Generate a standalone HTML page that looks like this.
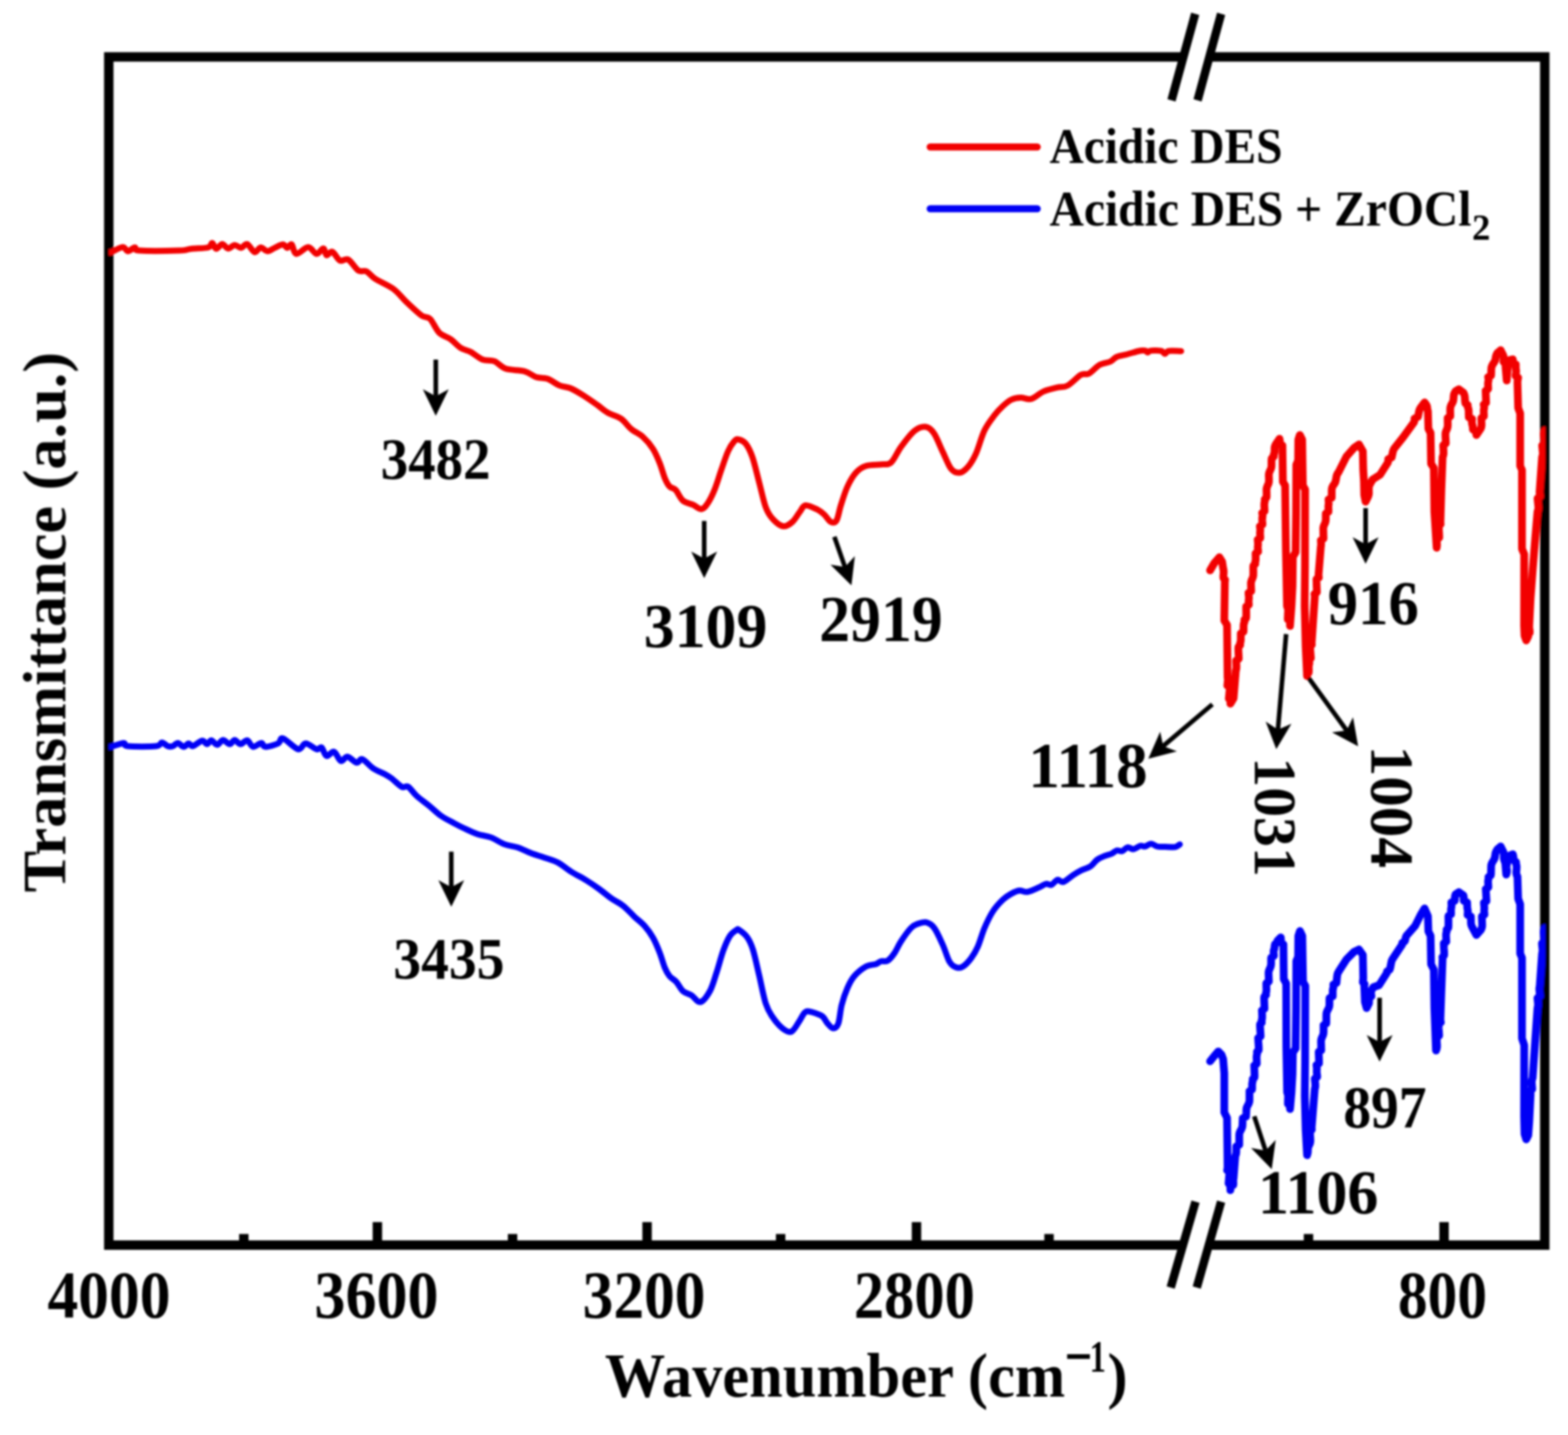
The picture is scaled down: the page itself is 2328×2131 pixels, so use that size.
<!DOCTYPE html>
<html><head><meta charset="utf-8"><title>FTIR spectra</title>
<style>
html,body{margin:0;padding:0;background:#fff;}
body{width:2328px;height:2131px;overflow:hidden;}
svg{display:block;}
text{font-family:'Liberation Serif','Times New Roman',serif;font-weight:bold;fill:#000;}
</style></head><body>
<svg width="2328" height="2131" viewBox="0 0 2328 2131">
<defs><filter id="soft" x="0" y="0" width="2328" height="2131" filterUnits="userSpaceOnUse"><feGaussianBlur stdDeviation="1.4"/></filter></defs>
<clipPath id="plot"><rect x="161.5" y="84.5" width="2133" height="1764.5"/></clipPath>
<rect width="2328" height="2131" fill="#fff"/>
<g filter="url(#soft)">

<g stroke="#000" stroke-width="14" fill="none" stroke-linecap="butt">
<path d="M1755,84.5 L161.5,84.5 L161.5,1849 L1755,1849" stroke-linejoin="miter"/>
<path d="M1799,84.5 L2293.5,84.5 L2293.5,1849 L1799,1849" stroke-linejoin="miter"/>
<line x1="560.3" y1="1849" x2="560.3" y2="1814.8"/>
<line x1="960.7" y1="1849" x2="960.7" y2="1814.8"/>
<line x1="1360.7" y1="1849" x2="1360.7" y2="1814.8"/>
<line x1="2144" y1="1849" x2="2144" y2="1814.8"/>
<line x1="362" y1="1849" x2="362" y2="1832.5"/>
<line x1="761" y1="1849" x2="761" y2="1832.5"/>
<line x1="1159" y1="1849" x2="1159" y2="1832.5"/>
<line x1="1557.5" y1="1849" x2="1557.5" y2="1832.5"/>
<line x1="1942.7" y1="1849" x2="1942.7" y2="1832.5"/>
</g>
<g stroke="#000" stroke-width="12.5" stroke-linecap="butt">
<line x1="1774.5" y1="20.5" x2="1739.3" y2="149"/>
<line x1="1813" y1="20.5" x2="1778" y2="149"/>
<line x1="1775" y1="1784.5" x2="1738.1" y2="1912"/>
<line x1="1813" y1="1784.5" x2="1776.8" y2="1912"/>
</g>
<g fill="none" stroke-width="9" stroke-linejoin="round" stroke-linecap="round">
<g clip-path="url(#plot)">
<path stroke="#f20000" d="M162.0,374.4C162.5,374.4 161.7,375.6 165.0,374.4C168.3,373.2 177.8,367.2 182.0,367.0C186.2,366.8 187.0,372.9 190.0,373.0C193.0,373.1 197.2,367.7 200.0,367.5C202.8,367.3 195.9,371.2 207.0,372.0C218.1,372.8 253.7,372.4 266.5,372.0C279.3,371.6 276.9,370.1 284.0,369.4C291.1,368.6 303.8,368.9 309.0,367.5C314.2,366.1 313.0,360.7 315.0,361.0C317.0,361.3 318.5,369.1 321.0,369.4C323.5,369.6 327.1,362.6 330.0,362.5C332.9,362.4 335.4,368.8 338.5,369.0C341.6,369.2 345.1,364.2 348.4,364.0C351.6,363.8 354.9,368.2 358.0,368.0C361.1,367.8 363.7,361.4 367.0,362.5C370.3,363.6 374.7,373.6 378.0,374.4C381.3,375.2 383.8,367.7 387.0,367.5C390.2,367.3 393.5,372.9 397.0,373.0C400.5,373.1 404.2,369.7 408.0,368.0C411.8,366.3 416.9,363.0 420.0,363.0C423.1,363.0 424.3,368.0 426.5,368.0C428.7,368.0 430.8,361.5 433.0,363.0C435.2,364.5 435.9,376.3 440.0,377.0C444.1,377.7 452.5,367.0 457.5,367.0C462.5,367.0 466.2,376.7 470.0,377.0C473.8,377.3 477.5,368.7 480.0,369.0C482.5,369.3 482.8,378.2 485.0,379.0C487.2,379.8 490.2,372.7 493.5,374.0C496.8,375.3 500.8,385.1 504.7,387.0C508.6,388.9 512.5,383.1 517.0,385.5C521.5,387.9 527.5,398.8 532.0,401.7C536.5,404.6 539.8,400.9 544.0,403.0C548.2,405.1 550.3,409.7 557.0,414.0C563.7,418.3 576.2,423.2 584.0,429.0C591.8,434.8 597.0,442.4 604.0,449.0C611.0,455.6 620.2,464.5 626.0,468.6C631.8,472.7 634.3,469.4 638.6,473.6C642.9,477.8 646.9,488.9 652.0,494.0C657.1,499.1 664.1,500.2 669.4,504.0C674.7,507.8 679.1,513.5 684.0,516.6C688.9,519.7 693.6,519.9 699.0,522.8C704.4,525.7 710.8,531.7 716.6,534.0C722.4,536.3 728.3,534.1 734.0,536.4C739.7,538.7 743.6,545.1 751.0,547.6C758.4,550.1 771.1,549.2 778.6,551.3C786.1,553.4 790.3,558.1 796.0,560.0C801.7,561.9 807.2,560.4 813.0,562.5C818.8,564.6 824.8,570.0 830.6,572.4C836.4,574.8 841.8,574.3 848.0,577.0C854.2,579.7 861.4,584.3 868.0,588.5C874.6,592.7 881.9,597.9 887.7,602.0C893.5,606.1 896.8,609.7 902.6,613.0C908.4,616.3 916.7,618.0 922.4,622.0C928.1,626.0 931.6,632.5 937.0,637.0C942.4,641.5 949.3,644.1 954.7,649.0C960.1,653.9 965.4,660.1 969.5,666.6C973.6,673.1 976.6,680.5 979.5,687.7C982.4,694.9 984.6,704.2 987.0,710.0C989.4,715.8 991.3,719.5 994.0,722.4C996.7,725.3 999.7,723.9 1003.0,727.4C1006.3,730.9 1009.7,739.8 1014.0,743.5C1018.3,747.2 1024.4,747.6 1029.0,749.7C1033.6,751.8 1037.8,756.5 1041.5,756.0C1045.2,755.5 1047.8,751.8 1051.0,747.0C1054.2,742.2 1057.7,735.2 1061.0,727.0C1064.3,718.8 1067.7,707.1 1071.0,697.6C1074.3,688.1 1077.8,677.0 1081.0,670.0C1084.2,663.0 1087.5,658.4 1090.0,655.5C1092.5,652.6 1093.2,652.0 1096.0,652.5C1098.8,653.0 1103.5,654.4 1107.0,658.7C1110.5,663.1 1113.7,669.1 1117.0,678.6C1120.3,688.1 1123.7,703.4 1127.0,715.8C1130.3,728.2 1133.5,744.0 1136.8,753.0C1140.1,762.0 1142.4,765.2 1146.7,770.0C1151.0,774.8 1157.8,780.7 1162.8,781.5C1167.8,782.3 1172.4,778.6 1176.5,775.0C1180.6,771.4 1184.3,764.1 1187.6,760.0C1190.8,755.9 1191.7,751.0 1196.0,750.5C1200.3,750.0 1209.1,754.5 1213.7,756.7C1218.3,759.0 1220.3,761.0 1223.6,764.0C1226.9,767.0 1230.4,773.5 1233.5,775.0C1236.6,776.5 1239.5,776.9 1242.0,772.8C1244.5,768.7 1245.7,758.8 1248.4,750.5C1251.1,742.2 1254.3,731.1 1258.0,723.0C1261.7,714.9 1266.1,707.2 1270.7,702.0C1275.3,696.8 1279.4,694.0 1285.6,692.0C1291.8,690.0 1301.8,690.5 1308.0,689.7C1314.2,688.9 1317.8,691.3 1322.8,687.0C1327.8,682.7 1331.9,671.5 1337.7,663.7C1343.5,655.9 1351.3,645.0 1357.5,640.0C1363.7,635.0 1370.1,633.3 1375.0,634.0C1379.9,634.7 1382.9,637.8 1387.0,644.0C1391.1,650.2 1395.5,662.3 1399.7,671.0C1403.9,679.7 1407.9,690.8 1412.0,696.0C1416.1,701.2 1420.3,702.4 1424.5,702.0C1428.7,701.6 1432.9,698.2 1437.0,693.5C1441.1,688.8 1444.9,682.7 1449.0,673.6C1453.1,664.5 1457.1,648.5 1461.7,639.0C1466.3,629.5 1472.0,622.6 1476.6,616.6C1481.1,610.6 1484.8,606.9 1489.0,603.0C1493.2,599.1 1497.2,595.6 1501.6,593.5C1506.0,591.4 1510.6,590.7 1515.5,590.5C1520.4,590.3 1525.4,594.0 1531.0,592.5C1536.6,591.0 1542.7,584.3 1549.0,581.5C1555.3,578.7 1563.0,577.1 1569.0,575.6C1575.0,574.1 1579.0,575.8 1585.0,572.6C1591.0,569.5 1599.5,559.7 1604.8,556.7C1610.1,553.7 1612.1,557.3 1616.7,554.8C1621.3,552.3 1627.2,544.9 1632.5,541.9C1637.8,538.9 1644.2,539.0 1648.4,537.0C1652.7,535.0 1653.7,531.8 1658.0,530.0C1662.3,528.2 1668.7,527.4 1674.0,526.0C1679.3,524.6 1686.2,522.4 1690.0,521.5C1693.8,520.6 1695.2,520.6 1697.0,520.5C1698.8,520.4 1699.8,520.5 1701.0,521.0C1702.2,521.5 1702.9,523.5 1704.0,523.5C1705.1,523.5 1705.5,521.5 1707.5,521.0C1709.5,520.5 1713.1,520.4 1716.0,520.5C1718.9,520.6 1722.8,520.7 1725.0,521.5C1727.2,522.3 1728.0,525.5 1729.5,525.5C1731.0,525.5 1731.9,522.2 1734.0,521.5C1736.1,520.8 1738.7,521.0 1742.0,521.0C1745.3,521.0 1751.7,521.4 1753.6,521.5"/>
<path stroke="#f20000" stroke-width="11.5" d="M1796.6,847.0C1796.6,847.0 1803.0,836.0 1803.0,836.0C1803.0,836.0 1810.4,827.6 1810.4,827.6C1810.4,827.6 1814.5,834.0 1814.5,834.0C1814.5,834.0 1816.0,844.0 1816.0,844.0C1816.0,844.0 1816.6,846.4 1816.6,846.4C1816.6,846.4 1816.8,848.9 1816.8,848.9C1816.8,848.9 1816.7,851.3 1816.7,851.3C1816.7,851.3 1816.5,853.7 1816.5,853.7C1816.5,853.7 1816.3,856.1 1816.3,856.1C1816.3,856.1 1816.5,858.5 1816.5,858.5C1816.5,858.5 1818.9,861.0 1818.9,861.0C1818.9,861.0 1818.5,863.4 1818.5,863.4C1818.5,863.4 1817.7,921.5 1817.7,921.5C1817.7,921.5 1821.8,928.0 1821.8,928.0C1821.8,928.0 1822.6,1006.0 1822.6,1006.0C1822.6,1006.0 1823.0,1008.4 1823.0,1008.4C1823.0,1008.4 1823.0,1010.9 1823.0,1010.9C1823.0,1010.9 1822.7,1013.3 1822.7,1013.3C1822.7,1013.3 1822.5,1015.8 1822.5,1015.8C1822.5,1015.8 1822.2,1018.2 1822.2,1018.2C1822.2,1018.2 1826.0,1020.6 1826.0,1020.6C1826.0,1020.6 1825.8,1023.1 1825.8,1023.1C1825.8,1023.1 1825.6,1025.5 1825.6,1025.5C1825.6,1025.5 1825.3,1027.9 1825.3,1027.9C1825.3,1027.9 1825.1,1030.4 1825.1,1030.4C1825.1,1030.4 1824.9,1032.8 1824.9,1032.8C1824.9,1032.8 1824.6,1035.2 1824.6,1035.2C1824.6,1035.2 1824.4,1037.7 1824.4,1037.7C1824.4,1037.7 1827.8,1040.1 1827.8,1040.1C1827.8,1040.1 1827.0,1042.6 1827.0,1042.6C1827.0,1042.6 1826.7,1045.0 1826.7,1045.0C1826.7,1045.0 1831.5,1037.0 1831.5,1037.0C1831.5,1037.0 1834.8,996.0 1834.8,996.0C1834.8,996.0 1835.5,993.5 1835.5,993.5C1835.5,993.5 1835.7,991.0 1835.7,991.0C1835.7,991.0 1835.7,988.4 1835.7,988.4C1835.7,988.4 1835.5,985.9 1835.5,985.9C1835.5,985.9 1835.4,983.4 1835.4,983.4C1835.4,983.4 1835.3,980.9 1835.3,980.9C1835.3,980.9 1839.2,978.4 1839.2,978.4C1839.2,978.4 1839.1,975.9 1839.1,975.9C1839.1,975.9 1839.0,973.3 1839.0,973.3C1839.0,973.3 1838.8,970.8 1838.8,970.8C1838.8,970.8 1838.7,968.3 1838.7,968.3C1838.7,968.3 1838.6,965.8 1838.6,965.8C1838.6,965.8 1838.5,963.3 1838.5,963.3C1838.5,963.3 1838.7,960.7 1838.7,960.7C1838.7,960.7 1841.3,958.2 1841.3,958.2C1841.3,958.2 1841.0,955.7 1841.0,955.7C1841.0,955.7 1841.8,953.2 1841.8,953.2C1841.8,953.2 1842.2,950.7 1842.2,950.7C1842.2,950.7 1842.2,948.2 1842.2,948.2C1842.2,948.2 1842.2,945.6 1842.2,945.6C1842.2,945.6 1842.2,943.1 1842.2,943.1C1842.2,943.1 1842.2,940.6 1842.2,940.6C1842.2,940.6 1846.3,938.1 1846.3,938.1C1846.3,938.1 1846.3,935.6 1846.3,935.6C1846.3,935.6 1846.3,933.1 1846.3,933.1C1846.3,933.1 1846.3,930.5 1846.3,930.5C1846.3,930.5 1846.4,928.0 1846.4,928.0C1846.4,928.0 1846.9,925.5 1846.9,925.5C1846.9,925.5 1847.8,923.0 1847.8,923.0C1847.8,923.0 1847.5,920.5 1847.5,920.5C1847.5,920.5 1850.1,918.0 1850.1,918.0C1850.1,918.0 1850.3,915.5 1850.3,915.5C1850.3,915.5 1850.3,913.0 1850.3,913.0C1850.3,913.0 1850.3,910.5 1850.3,910.5C1850.3,910.5 1850.3,908.0 1850.3,908.0C1850.3,908.0 1850.2,905.6 1850.2,905.6C1850.2,905.6 1850.2,903.1 1850.2,903.1C1850.2,903.1 1850.2,900.6 1850.2,900.6C1850.2,900.6 1854.2,898.1 1854.2,898.1C1854.2,898.1 1854.0,895.6 1854.0,895.6C1854.0,895.6 1853.8,893.1 1853.8,893.1C1853.8,893.1 1854.0,890.6 1854.0,890.6C1854.0,890.6 1854.3,888.1 1854.3,888.1C1854.3,888.1 1854.1,885.5 1854.1,885.5C1854.1,885.5 1853.8,883.0 1853.8,883.0C1853.8,883.0 1853.7,880.4 1853.7,880.4C1853.7,880.4 1857.7,877.9 1857.7,877.9C1857.7,877.9 1857.6,875.3 1857.6,875.3C1857.6,875.3 1857.5,872.8 1857.5,872.8C1857.5,872.8 1857.4,870.2 1857.4,870.2C1857.4,870.2 1857.3,867.6 1857.3,867.6C1857.3,867.6 1857.3,865.1 1857.3,865.1C1857.3,865.1 1858.0,862.5 1858.0,862.5C1858.0,862.5 1859.0,860.0 1859.0,860.0C1859.0,860.0 1860.1,857.5 1860.1,857.5C1860.1,857.5 1860.7,855.0 1860.7,855.0C1860.7,855.0 1860.8,852.5 1860.8,852.5C1860.8,852.5 1860.8,850.0 1860.8,850.0C1860.8,850.0 1860.8,847.5 1860.8,847.5C1860.8,847.5 1860.7,845.0 1860.7,845.0C1860.7,845.0 1860.7,842.5 1860.7,842.5C1860.7,842.5 1860.9,840.0 1860.9,840.0C1860.9,840.0 1863.7,837.5 1863.7,837.5C1863.7,837.5 1863.5,835.0 1863.5,835.0C1863.5,835.0 1864.2,832.4 1864.2,832.4C1864.2,832.4 1864.3,829.8 1864.3,829.8C1864.3,829.8 1864.3,827.1 1864.3,827.1C1864.3,827.1 1864.2,824.5 1864.2,824.5C1864.2,824.5 1864.1,821.9 1864.1,821.9C1864.1,821.9 1868.0,819.3 1868.0,819.3C1868.0,819.3 1867.8,816.6 1867.8,816.6C1867.8,816.6 1867.4,814.0 1867.4,814.0C1867.4,814.0 1867.5,811.4 1867.5,811.4C1867.5,811.4 1867.8,808.9 1867.8,808.9C1867.8,808.9 1867.7,806.4 1867.7,806.4C1867.7,806.4 1867.5,803.9 1867.5,803.9C1867.5,803.9 1867.3,801.4 1867.3,801.4C1867.3,801.4 1871.2,799.0 1871.2,799.0C1871.2,799.0 1871.1,796.5 1871.1,796.5C1871.1,796.5 1870.9,794.0 1870.9,794.0C1870.9,794.0 1870.7,791.5 1870.7,791.5C1870.7,791.5 1871.0,789.0 1871.0,789.0C1871.0,789.0 1871.1,786.5 1871.1,786.5C1871.1,786.5 1870.8,784.0 1870.8,784.0C1870.8,784.0 1870.5,781.5 1870.5,781.5C1870.5,781.5 1874.4,779.0 1874.4,779.0C1874.4,779.0 1874.3,776.6 1874.3,776.6C1874.3,776.6 1874.1,774.1 1874.1,774.1C1874.1,774.1 1874.0,771.6 1874.0,771.6C1874.0,771.6 1874.0,769.1 1874.0,769.1C1874.0,769.1 1874.5,766.6 1874.5,766.6C1874.5,766.6 1874.4,764.1 1874.4,764.1C1874.4,764.1 1873.9,761.6 1873.9,761.6C1873.9,761.6 1877.5,759.1 1877.5,759.1C1877.5,759.1 1877.4,756.6 1877.4,756.6C1877.4,756.6 1877.3,754.0 1877.3,754.0C1877.3,754.0 1877.1,751.5 1877.1,751.5C1877.1,751.5 1877.1,749.0 1877.1,749.0C1877.1,749.0 1877.3,746.5 1877.3,746.5C1877.3,746.5 1878.0,744.0 1878.0,744.0C1878.0,744.0 1877.7,741.4 1877.7,741.4C1877.7,741.4 1880.4,738.9 1880.4,738.9C1880.4,738.9 1880.6,736.3 1880.6,736.3C1880.6,736.3 1880.5,733.8 1880.5,733.8C1880.5,733.8 1880.5,731.2 1880.5,731.2C1880.5,731.2 1880.4,728.7 1880.4,728.7C1880.4,728.7 1880.4,726.1 1880.4,726.1C1880.4,726.1 1881.0,723.6 1881.0,723.6C1881.0,723.6 1882.0,721.0 1882.0,721.0C1882.0,721.0 1883.2,718.5 1883.2,718.5C1883.2,718.5 1883.9,716.0 1883.9,716.0C1883.9,716.0 1884.0,713.4 1884.0,713.4C1884.0,713.4 1884.0,710.9 1884.0,710.9C1884.0,710.9 1883.9,708.4 1883.9,708.4C1883.9,708.4 1883.8,705.9 1883.8,705.9C1883.8,705.9 1884.0,703.3 1884.0,703.3C1884.0,703.3 1884.8,700.8 1884.8,700.8C1884.8,700.8 1886.0,698.3 1886.0,698.3C1886.0,698.3 1887.1,695.8 1887.1,695.8C1887.1,695.8 1887.7,693.2 1887.7,693.2C1887.7,693.2 1887.8,690.7 1887.8,690.7C1887.8,690.7 1887.8,688.2 1887.8,688.2C1887.8,688.2 1887.8,685.6 1887.8,685.6C1887.8,685.6 1887.8,683.1 1887.8,683.1C1887.8,683.1 1888.1,680.6 1888.1,680.6C1888.1,680.6 1891.2,678.0 1891.2,678.0C1891.2,678.0 1891.0,675.5 1891.0,675.5C1891.0,675.5 1891.9,673.1 1891.9,673.1C1891.9,673.1 1892.3,670.6 1892.3,670.6C1892.3,670.6 1892.3,668.2 1892.3,668.2C1892.3,668.2 1892.3,665.8 1892.3,665.8C1892.3,665.8 1892.6,663.4 1892.6,663.4C1892.6,663.4 1893.6,660.9 1893.6,660.9C1893.6,660.9 1895.0,658.5 1895.0,658.5C1895.0,658.5 1899.6,651.6 1899.6,651.6C1899.6,651.6 1900.1,654.1 1900.1,654.1C1900.1,654.1 1900.1,656.6 1900.1,656.6C1900.1,656.6 1900.4,659.0 1900.4,659.0C1900.4,659.0 1904.0,661.5 1904.0,661.5C1904.0,661.5 1904.0,664.0 1904.0,664.0C1904.0,664.0 1904.7,715.4 1904.7,715.4C1904.7,715.4 1908.0,721.0 1908.0,721.0C1908.0,721.0 1909.2,818.0 1909.2,818.0C1909.2,818.0 1910.8,900.0 1910.8,900.0C1910.8,900.0 1911.8,902.5 1911.8,902.5C1911.8,902.5 1912.4,904.9 1912.4,904.9C1912.4,904.9 1912.5,907.4 1912.5,907.4C1912.5,907.4 1912.3,909.8 1912.3,909.8C1912.3,909.8 1912.2,912.3 1912.2,912.3C1912.2,912.3 1912.1,914.8 1912.1,914.8C1912.1,914.8 1912.0,917.2 1912.0,917.2C1912.0,917.2 1911.9,919.7 1911.9,919.7C1911.9,919.7 1915.8,922.1 1915.8,922.1C1915.8,922.1 1915.4,924.6 1915.4,924.6C1915.4,924.6 1915.2,927.0 1915.2,927.0C1915.2,927.0 1915.3,929.5 1915.3,929.5C1915.3,929.5 1917.5,900.0 1917.5,900.0C1917.5,900.0 1919.0,870.0 1919.0,870.0C1919.0,870.0 1919.5,827.0 1919.5,827.0C1919.5,827.0 1923.6,820.0 1923.6,820.0C1923.6,820.0 1924.3,760.0 1924.3,760.0C1924.3,760.0 1924.6,690.0 1924.6,690.0C1924.6,690.0 1927.3,684.0 1927.3,684.0C1927.3,684.0 1927.6,653.0 1927.6,653.0C1927.6,653.0 1929.8,646.0 1929.8,646.0C1929.8,646.0 1933.3,652.8 1933.3,652.8C1933.3,652.8 1934.3,721.0 1934.3,721.0C1934.3,721.0 1937.7,726.8 1937.7,726.8C1937.7,726.8 1937.5,840.0 1937.5,840.0C1937.5,840.0 1937.0,900.0 1937.0,900.0C1937.0,900.0 1938.5,960.0 1938.5,960.0C1938.5,960.0 1940.6,1004.0 1940.6,1004.0C1940.6,1004.0 1940.4,1001.6 1940.4,1001.6C1940.4,1001.6 1942.9,999.2 1942.9,999.2C1942.9,999.2 1943.2,996.9 1943.2,996.9C1943.2,996.9 1943.2,994.5 1943.2,994.5C1943.2,994.5 1943.1,992.1 1943.1,992.1C1943.1,992.1 1943.1,989.8 1943.1,989.8C1943.1,989.8 1943.4,987.4 1943.4,987.4C1943.4,987.4 1944.0,985.0 1944.0,985.0C1944.0,985.0 1943.7,982.5 1943.7,982.5C1943.7,982.5 1942.9,980.0 1942.9,980.0C1942.9,980.0 1946.3,977.5 1946.3,977.5C1946.3,977.5 1946.1,975.0 1946.1,975.0C1946.1,975.0 1945.9,972.5 1945.9,972.5C1945.9,972.5 1945.7,970.0 1945.7,970.0C1945.7,970.0 1945.5,967.5 1945.5,967.5C1945.5,967.5 1945.3,965.0 1945.3,965.0C1945.3,965.0 1945.1,962.5 1945.1,962.5C1945.1,962.5 1945.2,960.0 1945.2,960.0C1945.2,960.0 1947.7,957.5 1947.7,957.5C1947.7,957.5 1947.4,955.0 1947.4,955.0C1947.4,955.0 1949.7,921.0 1949.7,921.0C1949.7,921.0 1952.0,887.0 1952.0,887.0C1952.0,887.0 1952.0,884.6 1952.0,884.6C1952.0,884.6 1951.5,882.1 1951.5,882.1C1951.5,882.1 1955.2,879.7 1955.2,879.7C1955.2,879.7 1955.1,877.2 1955.1,877.2C1955.1,877.2 1955.0,874.8 1955.0,874.8C1955.0,874.8 1954.9,872.3 1954.9,872.3C1954.9,872.3 1954.8,869.9 1954.8,869.9C1954.8,869.9 1954.7,867.5 1954.7,867.5C1954.7,867.5 1954.7,865.0 1954.7,865.0C1954.7,865.0 1954.6,862.6 1954.6,862.6C1954.6,862.6 1954.5,860.1 1954.5,860.1C1954.5,860.1 1958.1,857.7 1958.1,857.7C1958.1,857.7 1957.7,855.2 1957.7,855.2C1957.7,855.2 1957.7,852.8 1957.7,852.8C1957.7,852.8 1961.0,812.0 1961.0,812.0C1961.0,812.0 1961.4,809.6 1961.4,809.6C1961.4,809.6 1961.4,807.1 1961.4,807.1C1961.4,807.1 1961.2,804.7 1961.2,804.7C1961.2,804.7 1961.1,802.3 1961.1,802.3C1961.1,802.3 1965.0,799.9 1965.0,799.9C1965.0,799.9 1965.0,797.4 1965.0,797.4C1965.0,797.4 1964.9,795.0 1964.9,795.0C1964.9,795.0 1964.8,792.6 1964.8,792.6C1964.8,792.6 1964.8,790.1 1964.8,790.1C1964.8,790.1 1964.7,787.7 1964.7,787.7C1964.7,787.7 1964.6,785.3 1964.6,785.3C1964.6,785.3 1964.8,782.9 1964.8,782.9C1964.8,782.9 1965.6,780.4 1965.6,780.4C1965.6,780.4 1966.8,778.0 1966.8,778.0C1966.8,778.0 1967.8,775.4 1967.8,775.4C1967.8,775.4 1968.3,772.8 1968.3,772.8C1968.3,772.8 1968.4,770.2 1968.4,770.2C1968.4,770.2 1968.4,767.6 1968.4,767.6C1968.4,767.6 1968.4,765.0 1968.4,765.0C1968.4,765.0 1968.4,762.5 1968.4,762.5C1968.4,762.5 1972.4,759.9 1972.4,759.9C1972.4,759.9 1972.4,757.3 1972.4,757.3C1972.4,757.3 1972.3,754.7 1972.3,754.7C1972.3,754.7 1972.2,752.1 1972.2,752.1C1972.2,752.1 1972.5,749.5 1972.5,749.5C1972.5,749.5 1972.8,746.9 1972.8,746.9C1972.8,746.9 1972.6,744.3 1972.6,744.3C1972.6,744.3 1972.4,741.7 1972.4,741.7C1972.4,741.7 1977.2,739.1 1977.2,739.1C1977.2,739.1 1977.2,736.5 1977.2,736.5C1977.2,736.5 1977.2,734.0 1977.2,734.0C1977.2,734.0 1977.2,731.4 1977.2,731.4C1977.2,731.4 1977.2,728.8 1977.2,728.8C1977.2,728.8 1977.3,726.2 1977.3,726.2C1977.3,726.2 1978.0,723.6 1978.0,723.6C1978.0,723.6 1979.3,721.0 1979.3,721.0C1979.3,721.0 1981.2,718.5 1981.2,718.5C1981.2,718.5 1982.6,716.0 1982.6,716.0C1982.6,716.0 1983.2,713.4 1983.2,713.4C1983.2,713.4 1983.7,710.9 1983.7,710.9C1983.7,710.9 1984.1,708.4 1984.1,708.4C1984.1,708.4 1984.7,705.8 1984.7,705.8C1984.7,705.8 1985.9,703.3 1985.9,703.3C1985.9,703.3 1987.6,700.8 1987.6,700.8C1987.6,700.8 1999.0,678.0 1999.0,678.0C1999.0,678.0 2010.4,665.0 2010.4,665.0C2010.4,665.0 2017.7,660.0 2017.7,660.0C2017.7,660.0 2023.4,670.0 2023.4,670.0C2023.4,670.0 2024.0,697.6 2024.0,697.6C2024.0,697.6 2025.0,713.8 2025.0,713.8C2025.0,713.8 2025.5,735.0 2025.5,735.0C2025.5,735.0 2027.5,745.0 2027.5,745.0C2027.5,745.0 2031.0,738.0 2031.0,738.0C2031.0,738.0 2031.9,735.5 2031.9,735.5C2031.9,735.5 2032.4,733.0 2032.4,733.0C2032.4,733.0 2032.4,730.5 2032.4,730.5C2032.4,730.5 2032.3,728.0 2032.3,728.0C2032.3,728.0 2032.3,725.5 2032.3,725.5C2032.3,725.5 2032.5,723.0 2032.5,723.0C2032.5,723.0 2033.3,720.5 2033.3,720.5C2033.3,720.5 2034.5,718.0 2034.5,718.0C2034.5,718.0 2038.0,712.0 2038.0,712.0C2038.0,712.0 2049.0,705.0 2049.0,705.0C2049.0,705.0 2060.5,687.0 2060.5,687.0C2060.5,687.0 2061.1,684.4 2061.1,684.4C2061.1,684.4 2061.1,681.8 2061.1,681.8C2061.1,681.8 2066.3,679.1 2066.3,679.1C2066.3,679.1 2066.8,676.5 2066.8,676.5C2066.8,676.5 2067.4,673.9 2067.4,673.9C2067.4,673.9 2067.9,671.2 2067.9,671.2C2067.9,671.2 2068.7,668.6 2068.7,668.6C2068.7,668.6 2070.0,666.0 2070.0,666.0C2070.0,666.0 2083.0,649.6 2083.0,649.6C2083.0,649.6 2099.5,626.8 2099.5,626.8C2099.5,626.8 2100.1,624.2 2100.1,624.2C2100.1,624.2 2100.1,621.5 2100.1,621.5C2100.1,621.5 2105.2,618.9 2105.2,618.9C2105.2,618.9 2105.8,616.2 2105.8,616.2C2105.8,616.2 2106.3,613.6 2106.3,613.6C2106.3,613.6 2106.8,611.0 2106.8,611.0C2106.8,611.0 2107.6,608.3 2107.6,608.3C2107.6,608.3 2109.0,605.7 2109.0,605.7C2109.0,605.7 2115.0,597.6 2115.0,597.6C2115.0,597.6 2117.0,600.2 2117.0,600.2C2117.0,600.2 2118.5,602.8 2118.5,602.8C2118.5,602.8 2119.0,605.4 2119.0,605.4C2119.0,605.4 2119.2,608.0 2119.2,608.0C2119.2,608.0 2120.0,610.6 2120.0,610.6C2120.0,610.6 2120.7,636.6 2120.7,636.6C2120.7,636.6 2124.0,643.0 2124.0,643.0C2124.0,643.0 2124.7,688.6 2124.7,688.6C2124.7,688.6 2128.8,695.0 2128.8,695.0C2128.8,695.0 2129.6,760.0 2129.6,760.0C2129.6,760.0 2133.0,813.4 2133.0,813.4C2133.0,813.4 2133.4,810.9 2133.4,810.9C2133.4,810.9 2133.5,808.4 2133.5,808.4C2133.5,808.4 2133.3,805.9 2133.3,805.9C2133.3,805.9 2133.2,803.4 2133.2,803.4C2133.2,803.4 2133.1,800.9 2133.1,800.9C2133.1,800.9 2136.9,798.4 2136.9,798.4C2136.9,798.4 2136.8,795.9 2136.8,795.9C2136.8,795.9 2136.7,793.5 2136.7,793.5C2136.7,793.5 2136.6,791.0 2136.6,791.0C2136.6,791.0 2136.4,788.5 2136.4,788.5C2136.4,788.5 2136.3,786.0 2136.3,786.0C2136.3,786.0 2136.2,783.5 2136.2,783.5C2136.2,783.5 2136.4,781.0 2136.4,781.0C2136.4,781.0 2138.9,778.5 2138.9,778.5C2138.9,778.5 2138.6,776.0 2138.6,776.0C2138.6,776.0 2140.0,727.6 2140.0,727.6C2140.0,727.6 2141.8,679.0 2141.8,679.0C2141.8,679.0 2142.7,676.4 2142.7,676.4C2142.7,676.4 2143.2,673.9 2143.2,673.9C2143.2,673.9 2143.2,671.3 2143.2,671.3C2143.2,671.3 2143.1,668.8 2143.1,668.8C2143.1,668.8 2143.0,666.2 2143.0,666.2C2143.0,666.2 2142.8,663.6 2142.8,663.6C2142.8,663.6 2142.7,661.1 2142.7,661.1C2142.7,661.1 2146.6,658.5 2146.6,658.5C2146.6,658.5 2146.5,655.9 2146.5,655.9C2146.5,655.9 2146.4,653.4 2146.4,653.4C2146.4,653.4 2146.2,650.8 2146.2,650.8C2146.2,650.8 2146.1,648.2 2146.1,648.2C2146.1,648.2 2146.0,645.7 2146.0,645.7C2146.0,645.7 2146.1,643.1 2146.1,643.1C2146.1,643.1 2146.8,640.6 2146.8,640.6C2146.8,640.6 2148.0,638.0 2148.0,638.0C2148.0,638.0 2148.9,635.5 2148.9,635.5C2148.9,635.5 2149.4,633.0 2149.4,633.0C2149.4,633.0 2149.5,630.6 2149.5,630.6C2149.5,630.6 2149.4,628.1 2149.4,628.1C2149.4,628.1 2149.4,625.6 2149.4,625.6C2149.4,625.6 2149.3,623.1 2149.3,623.1C2149.3,623.1 2149.3,620.6 2149.3,620.6C2149.3,620.6 2153.3,618.2 2153.3,618.2C2153.3,618.2 2153.2,615.7 2153.2,615.7C2153.2,615.7 2153.2,613.2 2153.2,613.2C2153.2,613.2 2153.1,610.7 2153.1,610.7C2153.1,610.7 2153.1,608.2 2153.1,608.2C2153.1,608.2 2153.2,605.8 2153.2,605.8C2153.2,605.8 2153.8,603.3 2153.8,603.3C2153.8,603.3 2154.8,600.8 2154.8,600.8C2154.8,600.8 2156.4,598.3 2156.4,598.3C2156.4,598.3 2157.5,595.8 2157.5,595.8C2157.5,595.8 2157.9,593.4 2157.9,593.4C2157.9,593.4 2158.1,590.9 2158.1,590.9C2158.1,590.9 2158.3,588.4 2158.3,588.4C2158.3,588.4 2158.6,586.0 2158.6,586.0C2158.6,586.0 2159.6,583.5 2159.6,583.5C2159.6,583.5 2161.0,581.0 2161.0,581.0C2161.0,581.0 2166.0,578.0 2166.0,578.0C2166.0,578.0 2172.7,583.0 2172.7,583.0C2172.7,583.0 2173.9,585.6 2173.9,585.6C2173.9,585.6 2174.6,588.2 2174.6,588.2C2174.6,588.2 2174.9,590.9 2174.9,590.9C2174.9,590.9 2175.0,593.5 2175.0,593.5C2175.0,593.5 2175.2,596.1 2175.2,596.1C2175.2,596.1 2175.6,598.8 2175.6,598.8C2175.6,598.8 2179.1,601.4 2179.1,601.4C2179.1,601.4 2179.0,604.0 2179.0,604.0C2179.0,604.0 2180.0,606.6 2180.0,606.6C2180.0,606.6 2180.5,609.2 2180.5,609.2C2180.5,609.2 2180.6,611.8 2180.6,611.8C2180.6,611.8 2180.6,614.4 2180.6,614.4C2180.6,614.4 2180.7,617.0 2180.7,617.0C2180.7,617.0 2180.7,619.6 2180.7,619.6C2180.7,619.6 2185.6,622.2 2185.6,622.2C2185.6,622.2 2185.4,624.8 2185.4,624.8C2185.4,624.8 2185.3,627.4 2185.3,627.4C2185.3,627.4 2185.7,630.0 2185.7,630.0C2185.7,630.0 2186.5,632.7 2186.5,632.7C2186.5,632.7 2186.7,635.3 2186.7,635.3C2186.7,635.3 2186.9,638.0 2186.9,638.0C2186.9,638.0 2191.9,640.7 2191.9,640.7C2191.9,640.7 2191.7,643.3 2191.7,643.3C2191.7,643.3 2192.0,646.0 2192.0,646.0C2192.0,646.0 2198.7,636.0 2198.7,636.0C2198.7,636.0 2199.4,633.5 2199.4,633.5C2199.4,633.5 2199.7,631.0 2199.7,631.0C2199.7,631.0 2199.6,628.4 2199.6,628.4C2199.6,628.4 2199.5,625.9 2199.5,625.9C2199.5,625.9 2199.4,623.4 2199.4,623.4C2199.4,623.4 2199.3,620.9 2199.3,620.9C2199.3,620.9 2203.2,618.3 2203.2,618.3C2203.2,618.3 2203.1,615.8 2203.1,615.8C2203.1,615.8 2203.0,613.3 2203.0,613.3C2203.0,613.3 2202.9,610.8 2202.9,610.8C2202.9,610.8 2203.0,608.2 2203.0,608.2C2203.0,608.2 2203.6,605.7 2203.6,605.7C2203.6,605.7 2203.4,603.2 2203.4,603.2C2203.4,603.2 2202.8,600.6 2202.8,600.6C2202.8,600.6 2206.4,598.1 2206.4,598.1C2206.4,598.1 2206.3,595.5 2206.3,595.5C2206.3,595.5 2206.2,593.0 2206.2,593.0C2206.2,593.0 2206.1,590.4 2206.1,590.4C2206.1,590.4 2206.0,587.9 2206.0,587.9C2206.0,587.9 2205.9,585.4 2205.9,585.4C2205.9,585.4 2205.8,582.8 2205.8,582.8C2205.8,582.8 2205.7,580.3 2205.7,580.3C2205.7,580.3 2209.5,577.7 2209.5,577.7C2209.5,577.7 2209.4,575.2 2209.4,575.2C2209.4,575.2 2209.3,572.6 2209.3,572.6C2209.3,572.6 2209.2,570.1 2209.2,570.1C2209.2,570.1 2209.4,567.5 2209.4,567.5C2209.4,567.5 2210.0,565.0 2210.0,565.0C2210.0,565.0 2209.9,562.6 2209.9,562.6C2209.9,562.6 2209.4,560.1 2209.4,560.1C2209.4,560.1 2213.8,557.7 2213.8,557.7C2213.8,557.7 2213.9,555.2 2213.9,555.2C2213.9,555.2 2214.0,552.8 2214.0,552.8C2214.0,552.8 2214.0,550.4 2214.0,550.4C2214.0,550.4 2214.1,547.9 2214.1,547.9C2214.1,547.9 2214.4,545.5 2214.4,545.5C2214.4,545.5 2215.3,543.0 2215.3,543.0C2215.3,543.0 2216.6,540.6 2216.6,540.6C2216.6,540.6 2218.5,537.9 2218.5,537.9C2218.5,537.9 2219.9,535.2 2219.9,535.2C2219.9,535.2 2220.4,532.5 2220.4,532.5C2220.4,532.5 2220.8,529.8 2220.8,529.8C2220.8,529.8 2221.6,527.1 2221.6,527.1C2221.6,527.1 2223.0,524.4 2223.0,524.4C2223.0,524.4 2228.0,520.0 2228.0,520.0C2228.0,520.0 2232.0,528.0 2232.0,528.0C2232.0,528.0 2232.4,530.4 2232.4,530.4C2232.4,530.4 2232.5,532.9 2232.5,532.9C2232.5,532.9 2232.4,535.3 2232.4,535.3C2232.4,535.3 2232.3,537.7 2232.3,537.7C2232.3,537.7 2236.0,540.1 2236.0,540.1C2236.0,540.1 2235.4,542.6 2235.4,542.6C2235.4,542.6 2235.3,545.0 2235.3,545.0C2235.3,545.0 2237.0,565.0 2237.0,565.0C2237.0,565.0 2238.7,545.0 2238.7,545.0C2238.7,545.0 2241.5,534.5 2241.5,534.5C2241.5,534.5 2246.0,533.5 2246.0,533.5C2246.0,533.5 2246.2,536.0 2246.2,536.0C2246.2,536.0 2245.8,538.6 2245.8,538.6C2245.8,538.6 2250.5,541.1 2250.5,541.1C2250.5,541.1 2250.5,543.7 2250.5,543.7C2250.5,543.7 2250.4,546.2 2250.4,546.2C2250.4,546.2 2250.8,548.8 2250.8,548.8C2250.8,548.8 2251.0,551.2 2251.0,551.2C2251.0,551.2 2250.8,553.6 2250.8,553.6C2250.8,553.6 2250.4,556.0 2250.4,556.0C2250.4,556.0 2250.2,558.4 2250.2,558.4C2250.2,558.4 2254.0,560.8 2254.0,560.8C2254.0,560.8 2253.5,563.2 2253.5,563.2C2253.5,563.2 2253.1,565.6 2253.1,565.6C2253.1,565.6 2253.0,568.0 2253.0,568.0C2253.0,568.0 2254.0,605.7 2254.0,605.7C2254.0,605.7 2257.0,613.8 2257.0,613.8C2257.0,613.8 2257.0,692.0 2257.0,692.0C2257.0,692.0 2259.7,698.0 2259.7,698.0C2259.7,698.0 2259.7,815.0 2259.7,815.0C2259.7,815.0 2263.0,823.0 2263.0,823.0C2263.0,823.0 2262.8,929.0 2262.8,929.0C2262.8,929.0 2263.5,944.0 2263.5,944.0C2263.5,944.0 2266.0,951.0 2266.0,951.0C2266.0,951.0 2269.0,945.0 2269.0,945.0C2269.0,945.0 2268.6,942.3 2268.6,942.3C2268.6,942.3 2271.2,939.7 2271.2,939.7C2271.2,939.7 2271.2,937.0 2271.2,937.0C2271.2,937.0 2270.8,934.3 2270.8,934.3C2270.8,934.3 2270.4,931.7 2270.4,931.7C2270.4,931.7 2270.5,929.0 2270.5,929.0C2270.5,929.0 2272.5,888.0 2272.5,888.0C2272.5,888.0 2275.5,847.6 2275.5,847.6C2275.5,847.6 2279.4,799.0 2279.4,799.0C2279.4,799.0 2282.7,760.0 2282.7,760.0C2282.7,760.0 2283.6,757.5 2283.6,757.5C2283.6,757.5 2284.0,755.0 2284.0,755.0C2284.0,755.0 2284.0,752.5 2284.0,752.5C2284.0,752.5 2283.7,750.0 2283.7,750.0C2283.7,750.0 2283.5,747.5 2283.5,747.5C2283.5,747.5 2283.2,745.0 2283.2,745.0C2283.2,745.0 2283.0,742.6 2283.0,742.6C2283.0,742.6 2282.7,740.1 2282.7,740.1C2282.7,740.1 2286.5,737.6 2286.5,737.6C2286.5,737.6 2286.3,735.1 2286.3,735.1C2286.3,735.1 2285.9,732.6 2285.9,732.6C2285.9,732.6 2285.8,730.1 2285.8,730.1C2285.8,730.1 2286.0,727.6 2286.0,727.6C2286.0,727.6 2289.5,679.0 2289.5,679.0C2289.5,679.0 2290.3,676.5 2290.3,676.5C2290.3,676.5 2290.7,674.0 2290.7,674.0C2290.7,674.0 2290.6,671.5 2290.6,671.5C2290.6,671.5 2290.3,669.0 2290.3,669.0C2290.3,669.0 2290.1,666.5 2290.1,666.5C2290.1,666.5 2289.8,664.0 2289.8,664.0C2289.8,664.0 2289.6,661.5 2289.6,661.5C2289.6,661.5 2293.3,659.0 2293.3,659.0C2293.3,659.0 2293.1,656.5 2293.1,656.5C2293.1,656.5 2292.8,654.0 2292.8,654.0C2292.8,654.0 2292.6,651.5 2292.6,651.5C2292.6,651.5 2292.3,649.0 2292.3,649.0C2292.3,649.0 2292.1,646.5 2292.1,646.5C2292.1,646.5 2292.0,644.0 2292.0,644.0C2292.0,644.0 2292.5,641.5 2292.5,641.5C2292.5,641.5 2293.5,639.0 2293.5,639.0"/>
<path stroke="#0000f5" d="M162.0,1109.0C162.5,1109.0 161.4,1109.9 165.0,1109.0C168.6,1108.1 179.4,1103.7 183.5,1103.5C187.6,1103.3 181.6,1107.2 189.7,1108.0C197.8,1108.8 223.3,1108.9 231.8,1108.0C240.3,1107.1 237.6,1102.7 240.5,1102.7C243.4,1102.7 246.3,1107.1 249.0,1108.0C251.7,1108.9 254.1,1108.8 256.6,1108.0C259.1,1107.2 261.3,1103.3 264.0,1103.5C266.7,1103.7 270.1,1108.9 272.8,1109.0C275.5,1109.1 277.7,1104.2 280.0,1104.0C282.3,1103.8 283.1,1108.7 286.4,1108.0C289.7,1107.3 296.5,1100.5 300.0,1100.0C303.5,1099.5 305.2,1105.1 307.5,1105.0C309.8,1104.9 311.2,1099.3 313.7,1099.5C316.2,1099.7 319.5,1106.1 322.4,1106.0C325.3,1105.9 327.9,1099.2 331.0,1099.0C334.1,1098.8 338.1,1105.0 341.0,1105.0C343.9,1105.0 345.7,1099.0 348.4,1099.0C351.1,1099.0 353.9,1104.9 357.0,1105.0C360.1,1105.1 363.9,1098.8 367.0,1099.5C370.1,1100.2 372.2,1108.3 375.7,1109.0C379.2,1109.7 384.9,1103.5 388.0,1103.5C391.1,1103.5 389.8,1108.9 394.0,1109.0C398.2,1109.1 408.7,1106.1 413.0,1104.0C417.3,1101.9 415.1,1095.1 420.0,1096.5C424.9,1097.9 437.1,1111.3 442.7,1112.6C448.3,1113.8 449.2,1104.0 453.8,1104.0C458.4,1104.0 466.1,1111.6 470.0,1112.6C473.9,1113.6 474.9,1108.3 477.4,1110.0C479.9,1111.7 481.7,1121.5 484.8,1122.6C487.9,1123.7 492.5,1115.2 496.0,1116.4C499.5,1117.6 502.7,1128.8 506.0,1130.0C509.3,1131.2 511.9,1123.4 515.8,1123.8C519.7,1124.2 525.8,1131.9 529.5,1132.5C533.2,1133.1 533.9,1126.1 538.0,1127.5C542.1,1128.9 548.4,1137.3 554.0,1141.0C559.6,1144.7 567.0,1147.3 571.6,1149.8C576.2,1152.3 577.4,1152.9 581.5,1156.0C585.6,1159.1 592.3,1166.3 596.4,1168.4C600.5,1170.5 602.3,1166.1 606.0,1168.4C609.7,1170.7 613.5,1177.3 618.7,1182.0C623.9,1186.7 631.0,1191.6 637.0,1196.5C643.0,1201.4 648.4,1207.1 654.6,1211.4C660.8,1215.8 668.7,1219.5 674.4,1222.6C680.1,1225.7 683.2,1227.3 689.0,1230.0C694.8,1232.7 702.3,1236.4 709.0,1238.7C715.7,1241.0 722.4,1241.1 729.0,1243.6C735.6,1246.1 742.2,1251.1 748.8,1253.6C755.4,1256.1 762.0,1256.3 768.6,1258.5C775.2,1260.7 781.9,1264.5 788.5,1267.0C795.1,1269.5 801.4,1271.1 808.0,1273.4C814.6,1275.7 821.3,1277.3 828.0,1280.8C834.7,1284.3 841.0,1290.1 848.0,1294.5C855.0,1298.9 863.0,1302.7 870.0,1307.0C877.0,1311.3 883.8,1316.0 890.0,1320.5C896.2,1325.0 901.7,1329.9 907.5,1334.0C913.3,1338.1 919.2,1340.4 925.0,1345.0C930.8,1349.6 936.7,1356.4 942.0,1361.4C947.3,1366.4 952.4,1369.8 957.0,1375.0C961.6,1380.2 965.8,1385.9 969.5,1392.5C973.2,1399.1 976.6,1407.4 979.5,1414.8C982.4,1422.2 984.6,1431.2 987.0,1437.0C989.4,1442.8 991.2,1446.0 994.0,1449.5C996.8,1453.0 1000.7,1454.3 1004.0,1458.0C1007.3,1461.7 1010.2,1468.5 1014.0,1471.8C1017.8,1475.1 1022.3,1475.3 1026.6,1478.0C1030.9,1480.7 1035.4,1489.0 1040.0,1488.0C1044.6,1487.0 1050.0,1479.0 1054.0,1471.8C1058.0,1464.5 1060.5,1454.5 1063.8,1444.5C1067.1,1434.5 1070.4,1421.1 1073.7,1412.0C1077.0,1402.9 1080.3,1395.2 1083.6,1390.0C1086.9,1384.8 1091.3,1382.5 1093.5,1381.0C1095.7,1379.5 1094.3,1379.0 1097.0,1380.8C1099.7,1382.6 1106.0,1387.0 1109.5,1392.0C1113.0,1397.0 1115.1,1401.3 1118.0,1410.6C1120.9,1419.9 1123.9,1434.6 1127.0,1447.8C1130.1,1461.0 1133.5,1479.7 1136.8,1490.0C1140.1,1500.3 1142.6,1503.6 1146.7,1509.8C1150.8,1516.0 1156.9,1523.3 1161.6,1527.0C1166.3,1530.7 1170.9,1533.7 1175.0,1532.0C1179.1,1530.3 1183.3,1521.5 1186.4,1517.0C1189.5,1512.5 1191.4,1507.3 1193.8,1504.8C1196.2,1502.3 1196.6,1501.4 1201.0,1502.0C1205.4,1502.6 1215.4,1505.6 1220.0,1508.6C1224.6,1511.5 1225.8,1516.6 1228.6,1519.7C1231.4,1522.8 1234.3,1527.0 1237.0,1527.0C1239.7,1527.0 1242.6,1525.5 1244.7,1519.7C1246.8,1514.0 1247.4,1501.2 1249.6,1492.5C1251.8,1483.8 1254.9,1474.7 1258.0,1467.6C1261.1,1460.5 1263.4,1455.4 1268.0,1450.0C1272.6,1444.6 1280.2,1438.5 1285.6,1435.4C1291.0,1432.4 1296.8,1433.0 1300.5,1431.7C1304.2,1430.4 1305.1,1428.3 1308.0,1427.5C1310.9,1426.7 1314.5,1428.7 1317.8,1426.7C1321.1,1424.7 1324.5,1420.4 1327.8,1415.6C1331.1,1410.8 1333.6,1404.3 1337.7,1398.0C1341.8,1391.7 1348.5,1382.3 1352.6,1378.0C1356.7,1373.7 1358.8,1373.4 1362.5,1372.0C1366.2,1370.6 1370.9,1368.7 1375.0,1369.7C1379.1,1370.7 1382.9,1372.5 1387.0,1378.0C1391.1,1383.5 1395.9,1394.7 1399.7,1403.0C1403.5,1411.3 1406.3,1422.4 1409.6,1428.0C1412.9,1433.6 1416.2,1435.4 1419.5,1436.6C1422.8,1437.8 1425.8,1437.7 1429.5,1435.4C1433.2,1433.1 1438.1,1428.0 1441.8,1423.0C1445.5,1418.0 1448.5,1413.1 1451.8,1405.6C1455.1,1398.1 1458.0,1386.7 1461.7,1378.0C1465.4,1369.3 1469.5,1360.6 1474.0,1353.6C1478.5,1346.6 1484.5,1340.3 1489.0,1336.0C1493.5,1331.7 1496.9,1329.8 1501.0,1327.5C1505.1,1325.2 1509.4,1323.0 1513.5,1322.5C1517.6,1322.0 1520.5,1325.3 1525.4,1324.5C1530.3,1323.7 1538.4,1319.6 1543.0,1317.6C1547.6,1315.6 1550.0,1313.2 1553.0,1312.6C1556.0,1312.0 1558.2,1315.0 1561.0,1314.0C1563.8,1313.0 1567.0,1307.3 1570.0,1306.6C1573.0,1305.9 1575.2,1310.8 1579.0,1309.6C1582.8,1308.4 1588.7,1302.5 1593.0,1299.7C1597.3,1296.9 1600.5,1295.0 1604.8,1292.8C1609.1,1290.6 1614.7,1289.4 1618.7,1286.8C1622.7,1284.2 1625.0,1279.6 1628.6,1277.0C1632.2,1274.4 1636.9,1272.5 1640.5,1271.0C1644.1,1269.5 1647.1,1269.3 1650.0,1268.0C1652.9,1266.7 1655.3,1263.7 1658.0,1263.0C1660.7,1262.3 1663.3,1264.8 1666.0,1264.0C1668.7,1263.2 1671.2,1258.9 1674.0,1258.4C1676.8,1257.9 1679.8,1261.4 1683.0,1261.0C1686.2,1260.6 1690.2,1256.7 1693.0,1256.0C1695.8,1255.3 1697.3,1257.5 1700.0,1257.0C1702.7,1256.5 1706.0,1253.0 1709.0,1253.0C1712.0,1253.0 1714.8,1256.2 1718.0,1257.0C1721.2,1257.8 1724.0,1257.3 1728.0,1257.5C1732.0,1257.7 1738.5,1258.1 1741.7,1258.0C1744.9,1257.9 1745.3,1257.7 1747.0,1257.0C1748.7,1256.3 1750.8,1254.5 1751.6,1254.0"/>
<path stroke="#0000f5" stroke-width="11.5" d="M1796.6,1576.0C1796.6,1576.0 1803.0,1568.0 1803.0,1568.0C1803.0,1568.0 1808.8,1561.4 1808.8,1561.4C1808.8,1561.4 1813.5,1566.0 1813.5,1566.0C1813.5,1566.0 1816.0,1572.8 1816.0,1572.8C1816.0,1572.8 1817.7,1594.0 1817.7,1594.0C1817.7,1594.0 1817.7,1652.0 1817.7,1652.0C1817.7,1652.0 1821.8,1660.0 1821.8,1660.0C1821.8,1660.0 1822.6,1733.0 1822.6,1733.0C1822.6,1733.0 1822.4,1735.5 1822.4,1735.5C1822.4,1735.5 1821.9,1737.9 1821.9,1737.9C1821.9,1737.9 1825.4,1740.4 1825.4,1740.4C1825.4,1740.4 1825.2,1742.9 1825.2,1742.9C1825.2,1742.9 1825.0,1745.3 1825.0,1745.3C1825.0,1745.3 1824.8,1747.8 1824.8,1747.8C1824.8,1747.8 1824.6,1750.2 1824.6,1750.2C1824.6,1750.2 1824.4,1752.7 1824.4,1752.7C1824.4,1752.7 1824.2,1755.2 1824.2,1755.2C1824.2,1755.2 1824.0,1757.6 1824.0,1757.6C1824.0,1757.6 1827.8,1760.1 1827.8,1760.1C1827.8,1760.1 1827.3,1762.6 1827.3,1762.6C1827.3,1762.6 1826.8,1765.0 1826.8,1765.0C1826.8,1765.0 1826.7,1767.5 1826.7,1767.5C1826.7,1767.5 1826.9,1764.9 1826.9,1764.9C1826.9,1764.9 1826.5,1762.4 1826.5,1762.4C1826.5,1762.4 1831.1,1759.8 1831.1,1759.8C1831.1,1759.8 1831.2,1757.3 1831.2,1757.3C1831.2,1757.3 1831.1,1754.7 1831.1,1754.7C1831.1,1754.7 1831.0,1752.2 1831.0,1752.2C1831.0,1752.2 1831.5,1749.6 1831.5,1749.6C1831.5,1749.6 1834.0,1717.0 1834.0,1717.0C1834.0,1717.0 1834.9,1714.6 1834.9,1714.6C1834.9,1714.6 1835.4,1712.1 1835.4,1712.1C1835.4,1712.1 1835.5,1709.7 1835.5,1709.7C1835.5,1709.7 1835.5,1707.2 1835.5,1707.2C1835.5,1707.2 1835.5,1704.8 1835.5,1704.8C1835.5,1704.8 1835.5,1702.4 1835.5,1702.4C1835.5,1702.4 1839.9,1699.9 1839.9,1699.9C1839.9,1699.9 1839.9,1697.5 1839.9,1697.5C1839.9,1697.5 1839.9,1695.1 1839.9,1695.1C1839.9,1695.1 1839.9,1692.6 1839.9,1692.6C1839.9,1692.6 1839.9,1690.2 1839.9,1690.2C1839.9,1690.2 1839.9,1687.8 1839.9,1687.8C1839.9,1687.8 1839.9,1685.3 1839.9,1685.3C1839.9,1685.3 1840.2,1682.9 1840.2,1682.9C1840.2,1682.9 1841.1,1680.4 1841.1,1680.4C1841.1,1680.4 1842.5,1678.0 1842.5,1678.0C1842.5,1678.0 1843.7,1675.5 1843.7,1675.5C1843.7,1675.5 1844.5,1673.0 1844.5,1673.0C1844.5,1673.0 1844.7,1670.5 1844.7,1670.5C1844.7,1670.5 1844.8,1668.1 1844.8,1668.1C1844.8,1668.1 1844.9,1665.6 1844.9,1665.6C1844.9,1665.6 1845.0,1663.1 1845.0,1663.1C1845.0,1663.1 1845.1,1660.6 1845.1,1660.6C1845.1,1660.6 1850.0,1658.1 1850.0,1658.1C1850.0,1658.1 1850.1,1655.6 1850.1,1655.6C1850.1,1655.6 1850.3,1653.1 1850.3,1653.1C1850.3,1653.1 1850.4,1650.6 1850.4,1650.6C1850.4,1650.6 1850.5,1648.2 1850.5,1648.2C1850.5,1648.2 1850.7,1645.7 1850.7,1645.7C1850.7,1645.7 1851.6,1643.2 1851.6,1643.2C1851.6,1643.2 1853.0,1640.7 1853.0,1640.7C1853.0,1640.7 1854.2,1638.2 1854.2,1638.2C1854.2,1638.2 1855.0,1635.6 1855.0,1635.6C1855.0,1635.6 1855.1,1633.0 1855.1,1633.0C1855.1,1633.0 1855.1,1630.5 1855.1,1630.5C1855.1,1630.5 1855.1,1628.0 1855.1,1628.0C1855.1,1628.0 1855.1,1625.4 1855.1,1625.4C1855.1,1625.4 1855.1,1622.8 1855.1,1622.8C1855.1,1622.8 1855.1,1620.3 1855.1,1620.3C1855.1,1620.3 1859.0,1617.8 1859.0,1617.8C1859.0,1617.8 1859.0,1615.2 1859.0,1615.2C1859.0,1615.2 1859.0,1612.7 1859.0,1612.7C1859.0,1612.7 1859.0,1610.1 1859.0,1610.1C1859.0,1610.1 1859.3,1607.5 1859.3,1607.5C1859.3,1607.5 1860.0,1605.0 1860.0,1605.0C1860.0,1605.0 1859.8,1602.5 1859.8,1602.5C1859.8,1602.5 1862.5,1600.0 1862.5,1600.0C1862.5,1600.0 1862.7,1597.4 1862.7,1597.4C1862.7,1597.4 1862.6,1594.9 1862.6,1594.9C1862.6,1594.9 1862.5,1592.4 1862.5,1592.4C1862.5,1592.4 1862.4,1589.8 1862.4,1589.8C1862.4,1589.8 1862.3,1587.3 1862.3,1587.3C1862.3,1587.3 1862.2,1584.8 1862.2,1584.8C1862.2,1584.8 1862.1,1582.3 1862.1,1582.3C1862.1,1582.3 1866.0,1579.8 1866.0,1579.8C1866.0,1579.8 1865.9,1577.2 1865.9,1577.2C1865.9,1577.2 1865.8,1574.7 1865.8,1574.7C1865.8,1574.7 1865.7,1572.2 1865.7,1572.2C1865.7,1572.2 1865.6,1569.6 1865.6,1569.6C1865.6,1569.6 1865.9,1567.1 1865.9,1567.1C1865.9,1567.1 1866.5,1564.6 1866.5,1564.6C1866.5,1564.6 1866.2,1562.0 1866.2,1562.0C1866.2,1562.0 1868.8,1559.5 1868.8,1559.5C1868.8,1559.5 1868.9,1556.9 1868.9,1556.9C1868.9,1556.9 1868.7,1554.3 1868.7,1554.3C1868.7,1554.3 1868.6,1551.8 1868.6,1551.8C1868.6,1551.8 1868.4,1549.2 1868.4,1549.2C1868.4,1549.2 1868.2,1546.7 1868.2,1546.7C1868.2,1546.7 1868.1,1544.1 1868.1,1544.1C1868.1,1544.1 1867.9,1541.5 1867.9,1541.5C1867.9,1541.5 1871.7,1539.0 1871.7,1539.0C1871.7,1539.0 1871.5,1536.4 1871.5,1536.4C1871.5,1536.4 1871.4,1533.8 1871.4,1533.8C1871.4,1533.8 1871.2,1531.3 1871.2,1531.3C1871.2,1531.3 1871.0,1528.7 1871.0,1528.7C1871.0,1528.7 1870.9,1526.2 1870.9,1526.2C1870.9,1526.2 1870.7,1523.6 1870.7,1523.6C1870.7,1523.6 1870.8,1521.0 1870.8,1521.0C1870.8,1521.0 1873.4,1518.5 1873.4,1518.5C1873.4,1518.5 1873.0,1515.9 1873.0,1515.9C1873.0,1515.9 1873.7,1513.3 1873.7,1513.3C1873.7,1513.3 1873.9,1510.8 1873.9,1510.8C1873.9,1510.8 1873.9,1508.2 1873.9,1508.2C1873.9,1508.2 1873.8,1505.7 1873.8,1505.7C1873.8,1505.7 1873.7,1503.1 1873.7,1503.1C1873.7,1503.1 1873.5,1500.6 1873.5,1500.6C1873.5,1500.6 1877.4,1498.0 1877.4,1498.0C1877.4,1498.0 1877.3,1495.5 1877.3,1495.5C1877.3,1495.5 1877.2,1492.9 1877.2,1492.9C1877.2,1492.9 1877.1,1490.3 1877.1,1490.3C1877.1,1490.3 1877.0,1487.8 1877.0,1487.8C1877.0,1487.8 1876.9,1485.2 1876.9,1485.2C1876.9,1485.2 1876.8,1482.7 1876.8,1482.7C1876.8,1482.7 1877.0,1480.1 1877.0,1480.1C1877.0,1480.1 1879.7,1477.6 1879.7,1477.6C1879.7,1477.6 1879.5,1475.0 1879.5,1475.0C1879.5,1475.0 1880.1,1472.5 1880.1,1472.5C1880.1,1472.5 1880.3,1470.0 1880.3,1470.0C1880.3,1470.0 1880.2,1467.6 1880.2,1467.6C1880.2,1467.6 1880.1,1465.1 1880.1,1465.1C1880.1,1465.1 1880.1,1462.6 1880.1,1462.6C1880.1,1462.6 1880.0,1460.1 1880.0,1460.1C1880.0,1460.1 1883.9,1457.6 1883.9,1457.6C1883.9,1457.6 1883.8,1455.2 1883.8,1455.2C1883.8,1455.2 1883.7,1452.7 1883.7,1452.7C1883.7,1452.7 1883.6,1450.2 1883.6,1450.2C1883.6,1450.2 1883.5,1447.7 1883.5,1447.7C1883.5,1447.7 1883.4,1445.2 1883.4,1445.2C1883.4,1445.2 1883.6,1442.8 1883.6,1442.8C1883.6,1442.8 1884.4,1440.3 1884.4,1440.3C1884.4,1440.3 1885.6,1437.8 1885.6,1437.8C1885.6,1437.8 1886.6,1435.2 1886.6,1435.2C1886.6,1435.2 1887.1,1432.6 1887.1,1432.6C1887.1,1432.6 1887.2,1430.0 1887.2,1430.0C1887.2,1430.0 1887.2,1427.4 1887.2,1427.4C1887.2,1427.4 1887.2,1424.8 1887.2,1424.8C1887.2,1424.8 1887.2,1422.2 1887.2,1422.2C1887.2,1422.2 1891.4,1419.6 1891.4,1419.6C1891.4,1419.6 1891.2,1417.0 1891.2,1417.0C1891.2,1417.0 1890.9,1414.4 1890.9,1414.4C1890.9,1414.4 1891.0,1411.8 1891.0,1411.8C1891.0,1411.8 1891.9,1409.3 1891.9,1409.3C1891.9,1409.3 1892.2,1406.9 1892.2,1406.9C1892.2,1406.9 1892.5,1404.4 1892.5,1404.4C1892.5,1404.4 1893.1,1401.9 1893.1,1401.9C1893.1,1401.9 1896.6,1399.5 1896.6,1399.5C1896.6,1399.5 1896.6,1397.0 1896.6,1397.0C1896.6,1397.0 1901.5,1392.0 1901.5,1392.0C1901.5,1392.0 1901.8,1394.6 1901.8,1394.6C1901.8,1394.6 1901.6,1397.2 1901.6,1397.2C1901.6,1397.2 1901.9,1399.8 1901.9,1399.8C1901.9,1399.8 1905.5,1402.4 1905.5,1402.4C1905.5,1402.4 1905.5,1405.0 1905.5,1405.0C1905.5,1405.0 1906.0,1454.0 1906.0,1454.0C1906.0,1454.0 1909.6,1460.6 1909.6,1460.6C1909.6,1460.6 1909.8,1555.0 1909.8,1555.0C1909.8,1555.0 1911.0,1622.0 1911.0,1622.0C1911.0,1622.0 1911.9,1624.5 1911.9,1624.5C1911.9,1624.5 1912.4,1627.0 1912.4,1627.0C1912.4,1627.0 1912.4,1629.5 1912.4,1629.5C1912.4,1629.5 1912.3,1632.0 1912.3,1632.0C1912.3,1632.0 1912.2,1634.5 1912.2,1634.5C1912.2,1634.5 1912.2,1637.0 1912.2,1637.0C1912.2,1637.0 1912.1,1639.5 1912.1,1639.5C1912.1,1639.5 1915.8,1642.0 1915.8,1642.0C1915.8,1642.0 1915.3,1644.5 1915.3,1644.5C1915.3,1644.5 1915.3,1647.0 1915.3,1647.0C1915.3,1647.0 1917.5,1622.0 1917.5,1622.0C1917.5,1622.0 1919.0,1595.0 1919.0,1595.0C1919.0,1595.0 1919.5,1563.0 1919.5,1563.0C1919.5,1563.0 1923.6,1557.0 1923.6,1557.0C1923.6,1557.0 1924.3,1497.0 1924.3,1497.0C1924.3,1497.0 1924.6,1427.0 1924.6,1427.0C1924.6,1427.0 1927.3,1421.0 1927.3,1421.0C1927.3,1421.0 1927.6,1390.0 1927.6,1390.0C1927.6,1390.0 1930.0,1382.5 1930.0,1382.5C1930.0,1382.5 1933.5,1390.0 1933.5,1390.0C1933.5,1390.0 1934.6,1458.0 1934.6,1458.0C1934.6,1458.0 1938.0,1464.0 1938.0,1464.0C1938.0,1464.0 1937.7,1577.0 1937.7,1577.0C1937.7,1577.0 1937.2,1628.0 1937.2,1628.0C1937.2,1628.0 1938.5,1678.0 1938.5,1678.0C1938.5,1678.0 1940.6,1715.5 1940.6,1715.5C1940.6,1715.5 1941.4,1712.9 1941.4,1712.9C1941.4,1712.9 1941.8,1710.3 1941.8,1710.3C1941.8,1710.3 1941.8,1707.8 1941.8,1707.8C1941.8,1707.8 1942.0,1705.2 1942.0,1705.2C1942.0,1705.2 1942.7,1702.6 1942.7,1702.6C1942.7,1702.6 1944.0,1700.0 1944.0,1700.0C1944.0,1700.0 1945.0,1697.5 1945.0,1697.5C1945.0,1697.5 1945.5,1695.0 1945.5,1695.0C1945.5,1695.0 1945.5,1692.5 1945.5,1692.5C1945.5,1692.5 1945.4,1690.0 1945.4,1690.0C1945.4,1690.0 1945.2,1687.5 1945.2,1687.5C1945.2,1687.5 1945.0,1685.0 1945.0,1685.0C1945.0,1685.0 1944.9,1682.5 1944.9,1682.5C1944.9,1682.5 1945.1,1680.0 1945.1,1680.0C1945.1,1680.0 1947.7,1677.5 1947.7,1677.5C1947.7,1677.5 1947.4,1675.0 1947.4,1675.0C1947.4,1675.0 1949.7,1646.0 1949.7,1646.0C1949.7,1646.0 1952.0,1617.0 1952.0,1617.0C1952.0,1617.0 1952.7,1614.5 1952.7,1614.5C1952.7,1614.5 1952.9,1611.9 1952.9,1611.9C1952.9,1611.9 1952.7,1609.4 1952.7,1609.4C1952.7,1609.4 1952.5,1606.8 1952.5,1606.8C1952.5,1606.8 1952.2,1604.3 1952.2,1604.3C1952.2,1604.3 1952.0,1601.7 1952.0,1601.7C1952.0,1601.7 1955.7,1599.2 1955.7,1599.2C1955.7,1599.2 1955.5,1596.6 1955.5,1596.6C1955.5,1596.6 1955.1,1594.1 1955.1,1594.1C1955.1,1594.1 1954.9,1591.5 1954.9,1591.5C1954.9,1591.5 1955.0,1589.0 1955.0,1589.0C1955.0,1589.0 1955.1,1586.5 1955.1,1586.5C1955.1,1586.5 1954.8,1584.1 1954.8,1584.1C1954.8,1584.1 1954.5,1581.7 1954.5,1581.7C1954.5,1581.7 1958.4,1579.2 1958.4,1579.2C1958.4,1579.2 1958.3,1576.8 1958.3,1576.8C1958.3,1576.8 1958.3,1574.3 1958.3,1574.3C1958.3,1574.3 1958.2,1571.8 1958.2,1571.8C1958.2,1571.8 1958.1,1569.4 1958.1,1569.4C1958.1,1569.4 1958.0,1567.0 1958.0,1567.0C1958.0,1567.0 1957.9,1564.5 1957.9,1564.5C1957.9,1564.5 1957.8,1562.0 1957.8,1562.0C1957.8,1562.0 1961.7,1559.6 1961.7,1559.6C1961.7,1559.6 1961.6,1557.2 1961.6,1557.2C1961.6,1557.2 1961.5,1554.7 1961.5,1554.7C1961.5,1554.7 1961.5,1552.2 1961.5,1552.2C1961.5,1552.2 1961.4,1549.8 1961.4,1549.8C1961.4,1549.8 1961.3,1547.3 1961.3,1547.3C1961.3,1547.3 1961.4,1544.9 1961.4,1544.9C1961.4,1544.9 1962.0,1542.5 1962.0,1542.5C1962.0,1542.5 1963.0,1540.0 1963.0,1540.0C1963.0,1540.0 1964.2,1537.5 1964.2,1537.5C1964.2,1537.5 1964.9,1535.0 1964.9,1535.0C1964.9,1535.0 1965.1,1532.4 1965.1,1532.4C1965.1,1532.4 1965.1,1529.9 1965.1,1529.9C1965.1,1529.9 1965.1,1527.4 1965.1,1527.4C1965.1,1527.4 1965.1,1524.8 1965.1,1524.8C1965.1,1524.8 1965.1,1522.3 1965.1,1522.3C1965.1,1522.3 1969.2,1519.8 1969.2,1519.8C1969.2,1519.8 1969.2,1517.3 1969.2,1517.3C1969.2,1517.3 1969.2,1514.8 1969.2,1514.8C1969.2,1514.8 1969.2,1512.2 1969.2,1512.2C1969.2,1512.2 1969.2,1509.7 1969.2,1509.7C1969.2,1509.7 1969.2,1507.2 1969.2,1507.2C1969.2,1507.2 1969.4,1504.6 1969.4,1504.6C1969.4,1504.6 1970.2,1502.1 1970.2,1502.1C1970.2,1502.1 1971.4,1499.6 1971.4,1499.6C1971.4,1499.6 1972.7,1497.1 1972.7,1497.1C1972.7,1497.1 1973.6,1494.6 1973.6,1494.6C1973.6,1494.6 1973.8,1492.1 1973.8,1492.1C1973.8,1492.1 1973.8,1489.6 1973.8,1489.6C1973.8,1489.6 1973.8,1487.1 1973.8,1487.1C1973.8,1487.1 1973.8,1484.6 1973.8,1484.6C1973.8,1484.6 1973.9,1482.0 1973.9,1482.0C1973.9,1482.0 1978.7,1479.5 1978.7,1479.5C1978.7,1479.5 1978.7,1477.0 1978.7,1477.0C1978.7,1477.0 1978.7,1474.5 1978.7,1474.5C1978.7,1474.5 1978.7,1472.0 1978.7,1472.0C1978.7,1472.0 1978.8,1469.5 1978.8,1469.5C1978.8,1469.5 1979.5,1467.0 1979.5,1467.0C1979.5,1467.0 1979.8,1464.6 1979.8,1464.6C1979.8,1464.6 1979.6,1462.1 1979.6,1462.1C1979.6,1462.1 1984.3,1459.7 1984.3,1459.7C1984.3,1459.7 1984.5,1457.3 1984.5,1457.3C1984.5,1457.3 1984.7,1454.8 1984.7,1454.8C1984.7,1454.8 1984.9,1452.4 1984.9,1452.4C1984.9,1452.4 1985.2,1450.0 1985.2,1450.0C1985.2,1450.0 1985.5,1447.6 1985.5,1447.6C1985.5,1447.6 1986.3,1445.1 1986.3,1445.1C1986.3,1445.1 1987.6,1442.7 1987.6,1442.7C1987.6,1442.7 1999.0,1424.8 1999.0,1424.8C1999.0,1424.8 2010.4,1413.4 2010.4,1413.4C2010.4,1413.4 2017.7,1410.0 2017.7,1410.0C2017.7,1410.0 2023.4,1418.0 2023.4,1418.0C2023.4,1418.0 2024.0,1450.8 2024.0,1450.8C2024.0,1450.8 2024.0,1453.4 2024.0,1453.4C2024.0,1453.4 2023.6,1456.0 2023.6,1456.0C2023.6,1456.0 2023.4,1458.6 2023.4,1458.6C2023.4,1458.6 2026.0,1461.2 2026.0,1461.2C2026.0,1461.2 2025.5,1463.8 2025.5,1463.8C2025.5,1463.8 2026.5,1488.0 2026.5,1488.0C2026.5,1488.0 2029.0,1497.0 2029.0,1497.0C2029.0,1497.0 2032.5,1490.0 2032.5,1490.0C2032.5,1490.0 2032.7,1487.4 2032.7,1487.4C2032.7,1487.4 2032.5,1484.9 2032.5,1484.9C2032.5,1484.9 2032.2,1482.3 2032.2,1482.3C2032.2,1482.3 2036.2,1479.7 2036.2,1479.7C2036.2,1479.7 2035.9,1477.1 2035.9,1477.1C2035.9,1477.1 2035.5,1474.6 2035.5,1474.6C2035.5,1474.6 2035.5,1472.0 2035.5,1472.0C2035.5,1472.0 2039.0,1466.0 2039.0,1466.0C2039.0,1466.0 2047.5,1463.0 2047.5,1463.0C2047.5,1463.0 2059.0,1445.0 2059.0,1445.0C2059.0,1445.0 2059.3,1442.5 2059.3,1442.5C2059.3,1442.5 2063.2,1440.0 2063.2,1440.0C2063.2,1440.0 2064.0,1437.5 2064.0,1437.5C2064.0,1437.5 2064.5,1435.0 2064.5,1435.0C2064.5,1435.0 2065.0,1432.4 2065.0,1432.4C2065.0,1432.4 2065.5,1429.9 2065.5,1429.9C2065.5,1429.9 2066.0,1427.4 2066.0,1427.4C2066.0,1427.4 2067.1,1424.9 2067.1,1424.9C2067.1,1424.9 2068.7,1422.4 2068.7,1422.4C2068.7,1422.4 2081.7,1402.8 2081.7,1402.8C2081.7,1402.8 2081.9,1400.2 2081.9,1400.2C2081.9,1400.2 2085.8,1397.6 2085.8,1397.6C2085.8,1397.6 2086.5,1395.0 2086.5,1395.0C2086.5,1395.0 2087.0,1392.4 2087.0,1392.4C2087.0,1392.4 2088.0,1389.8 2088.0,1389.8C2088.0,1389.8 2101.0,1375.0 2101.0,1375.0C2101.0,1375.0 2109.0,1359.0 2109.0,1359.0C2109.0,1359.0 2115.0,1349.0 2115.0,1349.0C2115.0,1349.0 2120.0,1360.6 2120.0,1360.6C2120.0,1360.6 2120.7,1383.0 2120.7,1383.0C2120.7,1383.0 2124.0,1389.8 2124.0,1389.8C2124.0,1389.8 2124.7,1432.0 2124.7,1432.0C2124.7,1432.0 2128.8,1440.0 2128.8,1440.0C2128.8,1440.0 2129.6,1497.0 2129.6,1497.0C2129.6,1497.0 2132.0,1560.0 2132.0,1560.0C2132.0,1560.0 2133.0,1557.5 2133.0,1557.5C2133.0,1557.5 2133.5,1555.1 2133.5,1555.1C2133.5,1555.1 2133.6,1552.6 2133.6,1552.6C2133.6,1552.6 2133.4,1550.2 2133.4,1550.2C2133.4,1550.2 2133.3,1547.7 2133.3,1547.7C2133.3,1547.7 2133.1,1545.3 2133.1,1545.3C2133.1,1545.3 2133.0,1542.8 2133.0,1542.8C2133.0,1542.8 2132.9,1540.4 2132.9,1540.4C2132.9,1540.4 2136.7,1537.9 2136.7,1537.9C2136.7,1537.9 2136.6,1535.5 2136.6,1535.5C2136.6,1535.5 2136.4,1533.0 2136.4,1533.0C2136.4,1533.0 2136.3,1530.6 2136.3,1530.6C2136.3,1530.6 2136.1,1528.1 2136.1,1528.1C2136.1,1528.1 2136.0,1525.7 2136.0,1525.7C2136.0,1525.7 2135.9,1523.2 2135.9,1523.2C2135.9,1523.2 2135.7,1520.8 2135.7,1520.8C2135.7,1520.8 2139.3,1518.3 2139.3,1518.3C2139.3,1518.3 2138.7,1515.9 2138.7,1515.9C2138.7,1515.9 2138.6,1513.4 2138.6,1513.4C2138.6,1513.4 2140.0,1472.8 2140.0,1472.8C2140.0,1472.8 2141.8,1424.0 2141.8,1424.0C2141.8,1424.0 2141.5,1421.4 2141.5,1421.4C2141.5,1421.4 2144.1,1418.9 2144.1,1418.9C2144.1,1418.9 2144.2,1416.3 2144.2,1416.3C2144.2,1416.3 2144.1,1413.8 2144.1,1413.8C2144.1,1413.8 2144.0,1411.2 2144.0,1411.2C2144.0,1411.2 2143.8,1408.6 2143.8,1408.6C2143.8,1408.6 2143.7,1406.1 2143.7,1406.1C2143.7,1406.1 2143.6,1403.5 2143.6,1403.5C2143.6,1403.5 2143.5,1400.9 2143.5,1400.9C2143.5,1400.9 2147.4,1398.4 2147.4,1398.4C2147.4,1398.4 2147.2,1395.8 2147.2,1395.8C2147.2,1395.8 2147.1,1393.2 2147.1,1393.2C2147.1,1393.2 2147.0,1390.7 2147.0,1390.7C2147.0,1390.7 2146.9,1388.1 2146.9,1388.1C2146.9,1388.1 2147.2,1385.6 2147.2,1385.6C2147.2,1385.6 2148.0,1383.0 2148.0,1383.0C2148.0,1383.0 2147.7,1380.5 2147.7,1380.5C2147.7,1380.5 2150.3,1377.9 2150.3,1377.9C2150.3,1377.9 2150.5,1375.4 2150.5,1375.4C2150.5,1375.4 2150.5,1372.9 2150.5,1372.9C2150.5,1372.9 2150.5,1370.4 2150.5,1370.4C2150.5,1370.4 2150.5,1367.8 2150.5,1367.8C2150.5,1367.8 2150.5,1365.3 2150.5,1365.3C2150.5,1365.3 2150.4,1362.8 2150.4,1362.8C2150.4,1362.8 2150.4,1360.2 2150.4,1360.2C2150.4,1360.2 2154.4,1357.7 2154.4,1357.7C2154.4,1357.7 2154.4,1355.2 2154.4,1355.2C2154.4,1355.2 2154.3,1352.7 2154.3,1352.7C2154.3,1352.7 2154.3,1350.1 2154.3,1350.1C2154.3,1350.1 2154.8,1347.6 2154.8,1347.6C2154.8,1347.6 2155.1,1345.1 2155.1,1345.1C2155.1,1345.1 2154.9,1342.7 2154.9,1342.7C2154.9,1342.7 2154.8,1340.2 2154.8,1340.2C2154.8,1340.2 2159.8,1337.8 2159.8,1337.8C2159.8,1337.8 2160.0,1335.3 2160.0,1335.3C2160.0,1335.3 2160.0,1332.9 2160.0,1332.9C2160.0,1332.9 2160.3,1330.5 2160.3,1330.5C2160.3,1330.5 2161.0,1328.0 2161.0,1328.0C2161.0,1328.0 2166.0,1324.8 2166.0,1324.8C2166.0,1324.8 2172.7,1329.7 2172.7,1329.7C2172.7,1329.7 2173.2,1332.3 2173.2,1332.3C2173.2,1332.3 2173.2,1335.0 2173.2,1335.0C2173.2,1335.0 2173.2,1337.6 2173.2,1337.6C2173.2,1337.6 2178.2,1340.2 2178.2,1340.2C2178.2,1340.2 2178.3,1342.9 2178.3,1342.9C2178.3,1342.9 2178.4,1345.5 2178.4,1345.5C2178.4,1345.5 2178.4,1348.2 2178.4,1348.2C2178.4,1348.2 2179.0,1350.8 2179.0,1350.8C2179.0,1350.8 2179.3,1353.4 2179.3,1353.4C2179.3,1353.4 2179.1,1356.0 2179.1,1356.0C2179.1,1356.0 2178.9,1358.6 2178.9,1358.6C2178.9,1358.6 2183.8,1361.2 2183.8,1361.2C2183.8,1361.2 2183.8,1363.8 2183.8,1363.8C2183.8,1363.8 2183.9,1366.4 2183.9,1366.4C2183.9,1366.4 2183.9,1369.0 2183.9,1369.0C2183.9,1369.0 2184.0,1371.6 2184.0,1371.6C2184.0,1371.6 2184.6,1374.2 2184.6,1374.2C2184.6,1374.2 2185.7,1376.8 2185.7,1376.8C2185.7,1376.8 2192.0,1388.5 2192.0,1388.5C2192.0,1388.5 2198.7,1381.0 2198.7,1381.0C2198.7,1381.0 2199.8,1378.5 2199.8,1378.5C2199.8,1378.5 2200.5,1376.0 2200.5,1376.0C2200.5,1376.0 2200.6,1373.5 2200.6,1373.5C2200.6,1373.5 2200.5,1370.9 2200.5,1370.9C2200.5,1370.9 2200.4,1368.4 2200.4,1368.4C2200.4,1368.4 2200.3,1365.9 2200.3,1365.9C2200.3,1365.9 2200.2,1363.4 2200.2,1363.4C2200.2,1363.4 2200.1,1360.9 2200.1,1360.9C2200.1,1360.9 2204.0,1358.3 2204.0,1358.3C2204.0,1358.3 2203.8,1355.8 2203.8,1355.8C2203.8,1355.8 2203.5,1353.3 2203.5,1353.3C2203.5,1353.3 2203.6,1350.8 2203.6,1350.8C2203.6,1350.8 2203.8,1348.3 2203.8,1348.3C2203.8,1348.3 2203.6,1345.7 2203.6,1345.7C2203.6,1345.7 2203.3,1343.2 2203.3,1343.2C2203.3,1343.2 2203.1,1340.6 2203.1,1340.6C2203.1,1340.6 2207.0,1338.1 2207.0,1338.1C2207.0,1338.1 2206.8,1335.5 2206.8,1335.5C2206.8,1335.5 2206.7,1333.0 2206.7,1333.0C2206.7,1333.0 2206.5,1330.4 2206.5,1330.4C2206.5,1330.4 2206.4,1327.9 2206.4,1327.9C2206.4,1327.9 2206.2,1325.4 2206.2,1325.4C2206.2,1325.4 2206.1,1322.8 2206.1,1322.8C2206.1,1322.8 2205.9,1320.3 2205.9,1320.3C2205.9,1320.3 2209.8,1317.7 2209.8,1317.7C2209.8,1317.7 2209.6,1315.2 2209.6,1315.2C2209.6,1315.2 2209.5,1312.6 2209.5,1312.6C2209.5,1312.6 2209.3,1310.1 2209.3,1310.1C2209.3,1310.1 2209.4,1307.5 2209.4,1307.5C2209.4,1307.5 2210.0,1305.0 2210.0,1305.0C2210.0,1305.0 2209.9,1302.4 2209.9,1302.4C2209.9,1302.4 2213.4,1299.8 2213.4,1299.8C2213.4,1299.8 2213.7,1297.2 2213.7,1297.2C2213.7,1297.2 2213.7,1294.6 2213.7,1294.6C2213.7,1294.6 2213.8,1292.0 2213.8,1292.0C2213.8,1292.0 2213.8,1289.4 2213.8,1289.4C2213.8,1289.4 2213.9,1286.8 2213.9,1286.8C2213.9,1286.8 2214.1,1284.2 2214.1,1284.2C2214.1,1284.2 2215.1,1281.6 2215.1,1281.6C2215.1,1281.6 2216.6,1279.0 2216.6,1279.0C2216.6,1279.0 2218.2,1276.5 2218.2,1276.5C2218.2,1276.5 2219.2,1274.0 2219.2,1274.0C2219.2,1274.0 2219.7,1271.5 2219.7,1271.5C2219.7,1271.5 2220.0,1268.9 2220.0,1268.9C2220.0,1268.9 2220.5,1266.4 2220.5,1266.4C2220.5,1266.4 2221.5,1263.9 2221.5,1263.9C2221.5,1263.9 2223.0,1261.4 2223.0,1261.4C2223.0,1261.4 2228.0,1257.0 2228.0,1257.0C2228.0,1257.0 2232.0,1265.0 2232.0,1265.0C2232.0,1265.0 2232.7,1267.7 2232.7,1267.7C2232.7,1267.7 2232.9,1270.3 2232.9,1270.3C2232.9,1270.3 2232.8,1273.0 2232.8,1273.0C2232.8,1273.0 2232.9,1275.7 2232.9,1275.7C2232.9,1275.7 2233.6,1278.3 2233.6,1278.3C2233.6,1278.3 2234.8,1281.0 2234.8,1281.0C2234.8,1281.0 2236.3,1298.8 2236.3,1298.8C2236.3,1298.8 2237.1,1296.3 2237.1,1296.3C2237.1,1296.3 2237.4,1293.7 2237.4,1293.7C2237.4,1293.7 2237.3,1291.2 2237.3,1291.2C2237.3,1291.2 2237.0,1288.6 2237.0,1288.6C2237.0,1288.6 2236.9,1286.1 2236.9,1286.1C2236.9,1286.1 2237.2,1283.5 2237.2,1283.5C2237.2,1283.5 2238.0,1281.0 2238.0,1281.0C2238.0,1281.0 2241.0,1270.5 2241.0,1270.5C2241.0,1270.5 2246.0,1268.5 2246.0,1268.5C2246.0,1268.5 2246.7,1270.8 2246.7,1270.8C2246.7,1270.8 2247.0,1273.2 2247.0,1273.2C2247.0,1273.2 2247.1,1275.5 2247.1,1275.5C2247.1,1275.5 2247.7,1277.8 2247.7,1277.8C2247.7,1277.8 2250.9,1280.2 2250.9,1280.2C2250.9,1280.2 2250.8,1282.5 2250.8,1282.5C2250.8,1282.5 2251.5,1284.9 2251.5,1284.9C2251.5,1284.9 2251.8,1287.4 2251.8,1287.4C2251.8,1287.4 2251.7,1289.8 2251.7,1289.8C2251.7,1289.8 2251.5,1292.2 2251.5,1292.2C2251.5,1292.2 2251.2,1294.7 2251.2,1294.7C2251.2,1294.7 2251.3,1297.1 2251.3,1297.1C2251.3,1297.1 2251.9,1299.6 2251.9,1299.6C2251.9,1299.6 2253.0,1302.0 2253.0,1302.0C2253.0,1302.0 2254.0,1334.6 2254.0,1334.6C2254.0,1334.6 2257.0,1342.7 2257.0,1342.7C2257.0,1342.7 2257.0,1416.0 2257.0,1416.0C2257.0,1416.0 2259.7,1422.4 2259.7,1422.4C2259.7,1422.4 2259.7,1542.0 2259.7,1542.0C2259.7,1542.0 2263.0,1552.0 2263.0,1552.0C2263.0,1552.0 2262.8,1657.7 2262.8,1657.7C2262.8,1657.7 2263.5,1684.0 2263.5,1684.0C2263.5,1684.0 2266.0,1692.0 2266.0,1692.0C2266.0,1692.0 2269.0,1686.0 2269.0,1686.0C2269.0,1686.0 2270.5,1666.0 2270.5,1666.0C2270.5,1666.0 2272.5,1625.0 2272.5,1625.0C2272.5,1625.0 2272.2,1622.6 2272.2,1622.6C2272.2,1622.6 2271.5,1620.2 2271.5,1620.2C2271.5,1620.2 2274.9,1617.7 2274.9,1617.7C2274.9,1617.7 2274.8,1615.3 2274.8,1615.3C2274.8,1615.3 2274.6,1612.9 2274.6,1612.9C2274.6,1612.9 2274.4,1610.5 2274.4,1610.5C2274.4,1610.5 2274.2,1608.1 2274.2,1608.1C2274.2,1608.1 2274.2,1605.6 2274.2,1605.6C2274.2,1605.6 2274.7,1603.2 2274.7,1603.2C2274.7,1603.2 2275.5,1600.8 2275.5,1600.8C2275.5,1600.8 2279.4,1544.0 2279.4,1544.0C2279.4,1544.0 2282.7,1497.0 2282.7,1497.0C2282.7,1497.0 2283.3,1494.5 2283.3,1494.5C2283.3,1494.5 2283.5,1492.0 2283.5,1492.0C2283.5,1492.0 2283.4,1489.5 2283.4,1489.5C2283.4,1489.5 2283.1,1487.0 2283.1,1487.0C2283.1,1487.0 2282.9,1484.5 2282.9,1484.5C2282.9,1484.5 2282.6,1482.0 2282.6,1482.0C2282.6,1482.0 2286.4,1479.6 2286.4,1479.6C2286.4,1479.6 2286.1,1477.1 2286.1,1477.1C2286.1,1477.1 2285.9,1474.6 2285.9,1474.6C2285.9,1474.6 2285.7,1472.1 2285.7,1472.1C2285.7,1472.1 2285.4,1469.6 2285.4,1469.6C2285.4,1469.6 2285.5,1467.1 2285.5,1467.1C2285.5,1467.1 2286.0,1464.6 2286.0,1464.6C2286.0,1464.6 2289.5,1416.0 2289.5,1416.0C2289.5,1416.0 2290.1,1413.5 2290.1,1413.5C2290.1,1413.5 2290.2,1410.9 2290.2,1410.9C2290.2,1410.9 2290.0,1408.4 2290.0,1408.4C2290.0,1408.4 2289.7,1405.9 2289.7,1405.9C2289.7,1405.9 2289.5,1403.3 2289.5,1403.3C2289.5,1403.3 2289.3,1400.8 2289.3,1400.8C2289.3,1400.8 2293.0,1398.3 2293.0,1398.3C2293.0,1398.3 2292.8,1395.7 2292.8,1395.7C2292.8,1395.7 2292.5,1393.2 2292.5,1393.2C2292.5,1393.2 2292.3,1390.7 2292.3,1390.7C2292.3,1390.7 2292.1,1388.1 2292.1,1388.1C2292.1,1388.1 2291.8,1385.6 2291.8,1385.6C2291.8,1385.6 2291.8,1383.1 2291.8,1383.1C2291.8,1383.1 2292.4,1380.5 2292.4,1380.5C2292.4,1380.5 2293.5,1378.0 2293.5,1378.0"/>
</g>
<line x1="1381" y1="218.3" x2="1540" y2="218.3" stroke="#f20000" stroke-width="10.5"/>
<line x1="1381" y1="310" x2="1540" y2="310" stroke="#0000f5" stroke-width="10.5"/>
</g>
<line x1="647.0" y1="534.0" x2="647.0" y2="588.5" stroke="#000" stroke-width="6.8"/><polygon points="647.0,617.5 627.8,578.0 647.0,588.5 666.2,578.0" fill="#000"/>
<line x1="1045.5" y1="773.6" x2="1045.5" y2="829.5" stroke="#000" stroke-width="6.8"/><polygon points="1045.5,858.5 1026.2,819.0 1045.5,829.5 1064.8,819.0" fill="#000"/>
<line x1="1238.8" y1="797.2" x2="1254.5" y2="842.0" stroke="#000" stroke-width="6.8"/><polygon points="1264.1,869.3 1232.9,838.4 1254.5,842.0 1269.2,825.7" fill="#000"/>
<line x1="2027.5" y1="754.5" x2="2027.5" y2="808.3" stroke="#000" stroke-width="6.8"/><polygon points="2027.5,837.3 2008.2,797.8 2027.5,808.3 2046.8,797.8" fill="#000"/>
<line x1="1800.0" y1="1046.0" x2="1727.0" y2="1107.9" stroke="#000" stroke-width="6.8"/><polygon points="1704.9,1126.7 1722.5,1086.4 1727.0,1107.9 1747.4,1115.8" fill="#000"/>
<line x1="1909.5" y1="941.6" x2="1897.3" y2="1083.6" stroke="#000" stroke-width="6.8"/><polygon points="1894.9,1112.5 1879.1,1071.5 1897.3,1083.6 1917.4,1074.8" fill="#000"/>
<line x1="1942.9" y1="1006.7" x2="1999.4" y2="1084.7" stroke="#000" stroke-width="6.8"/><polygon points="2016.4,1108.2 1977.6,1087.5 1999.4,1084.7 2008.8,1064.9" fill="#000"/>
<line x1="670.0" y1="1264.7" x2="670.0" y2="1317.5" stroke="#000" stroke-width="6.8"/><polygon points="670.0,1346.5 650.8,1307.0 670.0,1317.5 689.2,1307.0" fill="#000"/>
<line x1="2048.3" y1="1481.7" x2="2048.3" y2="1547.5" stroke="#000" stroke-width="6.8"/><polygon points="2048.3,1576.5 2029.1,1537.0 2048.3,1547.5 2067.6,1537.0" fill="#000"/>
<line x1="1862.2" y1="1657.8" x2="1879.0" y2="1708.7" stroke="#000" stroke-width="6.8"/><polygon points="1888.1,1736.2 1857.4,1704.7 1879.0,1708.7 1894.0,1692.7" fill="#000"/>
<text transform="translate(565.14,710.92) scale(0.9322,1)" font-size="87.56">3482</text>
<text transform="translate(955.83,960.66) scale(0.9783,1)" font-size="93.78">3109</text>
<text transform="translate(1216.23,952.04) scale(0.9515,1)" font-size="96.42">2919</text>
<text transform="translate(1971.30,927.47) scale(0.9694,1)" font-size="92.99">916</text>
<text transform="translate(1526.80,1168.75) scale(0.9881,1)" font-size="94.81">1118</text>
<text transform="translate(584.10,1452.63) scale(0.9474,1)" font-size="87.01">3435</text>
<text transform="translate(1994.41,1673.81) scale(0.9273,1)" font-size="88.89">897</text>
<text transform="translate(1867.64,1802.37) scale(0.9840,1)" font-size="93.48">1106</text>
<text transform="translate(1863.90,1124.49) rotate(90) scale(0.9894,1)" font-size="89.78">1031</text>
<text transform="translate(2035.51,1107.24) rotate(90) scale(0.9949,1)" font-size="91.26">1004</text>
<text transform="translate(70.43,1956.01) scale(0.9274,1)" font-size="98.52">4000</text>
<text transform="translate(466.81,1956.01) scale(0.9357,1)" font-size="98.52">3600</text>
<text transform="translate(865.05,1956.01) scale(0.9257,1)" font-size="98.52">3200</text>
<text transform="translate(1267.71,1956.01) scale(0.9119,1)" font-size="98.52">2800</text>
<text transform="translate(2075.52,1956.01) scale(0.8947,1)" font-size="98.52">800</text>
<text transform="translate(898.05,2074.46) scale(0.9739,1)" font-size="92.11">Wavenumber (cm</text>
<text transform="translate(1581.9,2037)" font-size="68" stroke="#000" stroke-width="2.2">−</text>
<text transform="translate(1617.8,2037) scale(0.71,1)" font-size="68">1</text>
<text transform="translate(1644.31,2074.46) scale(0.9739,1)" font-size="92.11">)</text>
<text transform="translate(96.93,1325.19) rotate(-90) scale(1.0243,1)" font-size="90.33">Transmittance (a.u.)</text>
<text transform="translate(1558.20,241.86) scale(0.9451,1)" font-size="74.43">Acidic DES</text>
<text transform="translate(1558.19,335.15) scale(0.9467,1)" font-size="74.57">Acidic DES + ZrOCl</text>
<text transform="translate(2185.5,355.9) scale(0.99,1)" font-size="55">2</text>
</g></svg></body></html>
